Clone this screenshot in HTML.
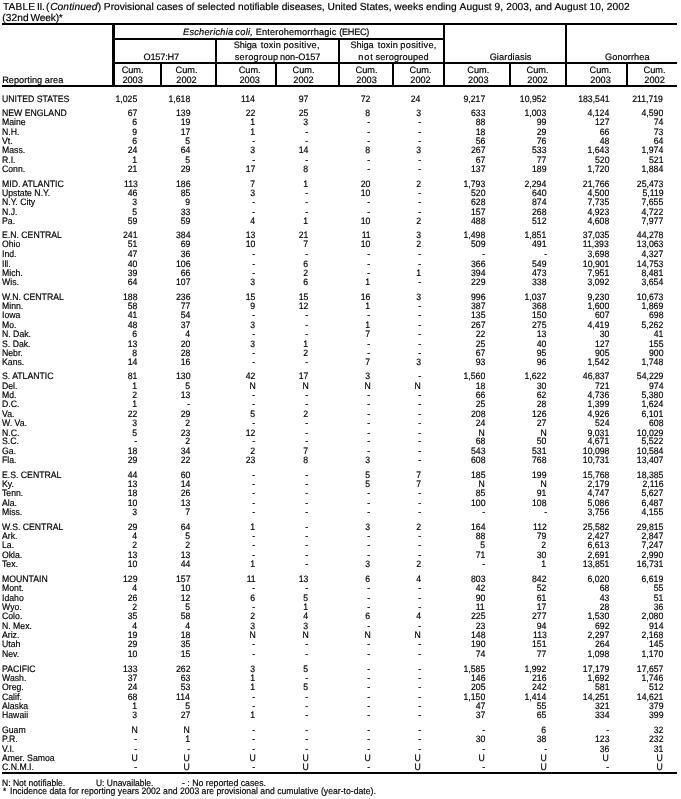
<!DOCTYPE html>
<html><head><meta charset="utf-8"><title>TABLE II</title>
<style>
html,body{margin:0;padding:0;background:#fff;}
body{width:681px;height:799px;position:relative;overflow:hidden;will-change:transform;text-rendering:geometricPrecision;font-family:"Liberation Sans",sans-serif;color:#000;}
.t{position:absolute;white-space:pre;line-height:10px;-webkit-text-stroke:0.18px #000;}
.r{position:absolute;background:#000;}
i{font-style:italic;}
</style></head><body>
<span class="t" style="top:3px;left:3.00px;font-size:10.2px;letter-spacing:0.149px;">TABLE</span>
<span class="t" style="top:3px;left:37.08px;font-size:10.2px;letter-spacing:-0.391px;">II.</span>
<span class="t" style="top:3px;font-size:10.2px;left:46.09px;">(</span>
<span class="t" style="top:3px;left:50.14px;font-size:10.2px;letter-spacing:0.105px;font-style:italic;">Continued</span>
<span class="t" style="top:3px;font-size:10.2px;left:97.63px;">) Provisional cases of selected notifiable diseases, United States, weeks ending</span>
<span class="t" style="top:3px;left:459.60px;font-size:10.2px;letter-spacing:0.068px;">August 9, 2003, and August 10, 2002</span>
<span class="t" style="top:14px;left:2.29px;font-size:10.2px;letter-spacing:0.066px;">(32nd</span>
<span class="t" style="top:14px;left:30.60px;font-size:10.2px;letter-spacing:-0.200px;">Week)*</span>
<div class="r" style="left:2px;top:23px;width:674.5px;height:2px"></div>
<div class="r" style="left:113px;top:38.2px;width:331px;height:1.8px"></div>
<div class="r" style="left:113px;top:62px;width:563.5px;height:2px"></div>
<div class="r" style="left:2px;top:85px;width:674.5px;height:2px"></div>
<div class="r" style="left:2px;top:772.4px;width:674.5px;height:1.5px"></div>
<div class="r" style="left:112px;top:23px;width:2.7px;height:64px"></div>
<div class="r" style="left:160px;top:63px;width:1.5px;height:23px"></div>
<div class="r" style="left:215px;top:39px;width:2.2px;height:47px"></div>
<div class="r" style="left:275.3px;top:63px;width:1.5px;height:23px"></div>
<div class="r" style="left:338px;top:39px;width:2px;height:47px"></div>
<div class="r" style="left:392px;top:63px;width:1.5px;height:23px"></div>
<div class="r" style="left:443.3px;top:23px;width:2px;height:64px"></div>
<div class="r" style="left:509px;top:63px;width:2px;height:23px"></div>
<div class="r" style="left:565px;top:23px;width:2px;height:64px"></div>
<div class="r" style="left:626px;top:63px;width:1.5px;height:23px"></div>
<span class="t" style="top:27px;left:183.02px;font-size:9.2px;letter-spacing:0.259px;font-style:italic;">Escherichia</span>
<span class="t" style="top:27px;left:235.32px;font-size:9.2px;letter-spacing:0.315px;font-style:italic;">coli,</span>
<span class="t" style="top:27px;left:255.76px;font-size:9.2px;letter-spacing:0.151px;">Enterohemorrhagic</span>
<span class="t" style="top:27px;left:339.15px;font-size:9.2px;letter-spacing:-0.278px;">(EHEC)</span>
<span class="t" style="top:52px;left:143.49px;font-size:9.2px;letter-spacing:-0.195px;">O157:H7</span>
<span class="t" style="top:40px;left:233.69px;font-size:9.2px;letter-spacing:-0.109px;">Shiga</span>
<span class="t" style="top:40px;left:260.76px;font-size:9.2px;letter-spacing:0.195px;">toxin</span>
<span class="t" style="top:40px;left:283.45px;font-size:9.2px;letter-spacing:0.302px;">positive,</span>
<span class="t" style="top:52px;left:234.67px;font-size:9.2px;letter-spacing:0.262px;">serogroup</span>
<span class="t" style="top:52px;left:280.00px;font-size:9.2px;letter-spacing:-0.055px;">non-O157</span>
<span class="t" style="top:40px;left:350.39px;font-size:9.2px;letter-spacing:-0.084px;">Shiga</span>
<span class="t" style="top:40px;left:377.66px;font-size:9.2px;letter-spacing:0.219px;">toxin</span>
<span class="t" style="top:40px;left:400.35px;font-size:9.2px;letter-spacing:0.290px;">positive,</span>
<span class="t" style="top:52px;left:358.20px;font-size:9.2px;letter-spacing:0.878px;">not</span>
<span class="t" style="top:52px;left:375.57px;font-size:9.2px;letter-spacing:0.152px;">serogrouped</span>
<span class="t" style="top:52px;left:489.64px;font-size:9.2px;letter-spacing:0.099px;">Giardiasis</span>
<span class="t" style="top:52px;left:605.04px;font-size:9.2px;letter-spacing:0.080px;">Gonorrhea</span>
<span class="t" style="top:75px;left:2.16px;font-size:9.2px;letter-spacing:0.026px;">Reporting area</span>
<span class="t" style="top:65px;font-size:9.2px;left:-17.40px;width:300px;text-align:center;">Cum.</span>
<span class="t" style="top:75px;font-size:9.2px;left:-17.40px;width:300px;text-align:center;">2003</span>
<span class="t" style="top:65px;font-size:9.2px;left:36.50px;width:300px;text-align:center;">Cum.</span>
<span class="t" style="top:75px;font-size:9.2px;left:36.50px;width:300px;text-align:center;">2002</span>
<span class="t" style="top:65px;font-size:9.2px;left:99.70px;width:300px;text-align:center;">Cum.</span>
<span class="t" style="top:75px;font-size:9.2px;left:99.70px;width:300px;text-align:center;">2003</span>
<span class="t" style="top:65px;font-size:9.2px;left:153.50px;width:300px;text-align:center;">Cum.</span>
<span class="t" style="top:75px;font-size:9.2px;left:153.50px;width:300px;text-align:center;">2002</span>
<span class="t" style="top:65px;font-size:9.2px;left:216.60px;width:300px;text-align:center;">Cum.</span>
<span class="t" style="top:75px;font-size:9.2px;left:216.60px;width:300px;text-align:center;">2003</span>
<span class="t" style="top:65px;font-size:9.2px;left:270.50px;width:300px;text-align:center;">Cum.</span>
<span class="t" style="top:75px;font-size:9.2px;left:270.50px;width:300px;text-align:center;">2002</span>
<span class="t" style="top:65px;font-size:9.2px;left:328.30px;width:300px;text-align:center;">Cum.</span>
<span class="t" style="top:75px;font-size:9.2px;left:328.30px;width:300px;text-align:center;">2003</span>
<span class="t" style="top:65px;font-size:9.2px;left:387.50px;width:300px;text-align:center;">Cum.</span>
<span class="t" style="top:75px;font-size:9.2px;left:387.50px;width:300px;text-align:center;">2002</span>
<span class="t" style="top:65px;font-size:9.2px;left:450.60px;width:300px;text-align:center;">Cum.</span>
<span class="t" style="top:75px;font-size:9.2px;left:450.60px;width:300px;text-align:center;">2003</span>
<span class="t" style="top:65px;font-size:9.2px;left:504.60px;width:300px;text-align:center;">Cum.</span>
<span class="t" style="top:75px;font-size:9.2px;left:504.60px;width:300px;text-align:center;">2002</span>
<span class="t" style="top:94px;font-size:9.3px;left:2.00px;transform:scaleX(0.9350);transform-origin:left center;">UNITED STATES</span>
<span class="t" style="top:94px;font-size:9.3px;right:543.50px;transform:scaleX(0.9350);transform-origin:right center;">1,025</span>
<span class="t" style="top:94px;font-size:9.3px;right:490.80px;transform:scaleX(0.9350);transform-origin:right center;">1,618</span>
<span class="t" style="top:94px;font-size:9.3px;right:425.70px;transform:scaleX(0.9350);transform-origin:right center;">114</span>
<span class="t" style="top:94px;font-size:9.3px;right:372.70px;transform:scaleX(0.9350);transform-origin:right center;">97</span>
<span class="t" style="top:94px;font-size:9.3px;right:310.50px;transform:scaleX(0.9350);transform-origin:right center;">72</span>
<span class="t" style="top:94px;font-size:9.3px;right:260.30px;transform:scaleX(0.9350);transform-origin:right center;">24</span>
<span class="t" style="top:94px;font-size:9.3px;right:195.90px;transform:scaleX(0.9350);transform-origin:right center;">9,217</span>
<span class="t" style="top:94px;font-size:9.3px;right:134.40px;transform:scaleX(0.9350);transform-origin:right center;">10,952</span>
<span class="t" style="top:94px;font-size:9.3px;right:71.90px;transform:scaleX(0.9350);transform-origin:right center;">183,541</span>
<span class="t" style="top:94px;font-size:9.3px;right:17.80px;transform:scaleX(0.9350);transform-origin:right center;">211,719</span>
<span class="t" style="top:108px;font-size:9.3px;left:2.00px;transform:scaleX(0.9350);transform-origin:left center;">NEW ENGLAND</span>
<span class="t" style="top:108px;font-size:9.3px;right:543.50px;transform:scaleX(0.9350);transform-origin:right center;">67</span>
<span class="t" style="top:108px;font-size:9.3px;right:490.80px;transform:scaleX(0.9350);transform-origin:right center;">139</span>
<span class="t" style="top:108px;font-size:9.3px;right:425.70px;transform:scaleX(0.9350);transform-origin:right center;">22</span>
<span class="t" style="top:108px;font-size:9.3px;right:372.70px;transform:scaleX(0.9350);transform-origin:right center;">25</span>
<span class="t" style="top:108px;font-size:9.3px;right:310.50px;transform:scaleX(0.9350);transform-origin:right center;">8</span>
<span class="t" style="top:108px;font-size:9.3px;right:260.30px;transform:scaleX(0.9350);transform-origin:right center;">3</span>
<span class="t" style="top:108px;font-size:9.3px;right:195.90px;transform:scaleX(0.9350);transform-origin:right center;">633</span>
<span class="t" style="top:108px;font-size:9.3px;right:134.40px;transform:scaleX(0.9350);transform-origin:right center;">1,003</span>
<span class="t" style="top:108px;font-size:9.3px;right:71.90px;transform:scaleX(0.9350);transform-origin:right center;">4,124</span>
<span class="t" style="top:108px;font-size:9.3px;right:17.80px;transform:scaleX(0.9350);transform-origin:right center;">4,590</span>
<span class="t" style="top:117px;font-size:9.3px;left:2.00px;transform:scaleX(0.9350);transform-origin:left center;">Maine</span>
<span class="t" style="top:117px;font-size:9.3px;right:543.50px;transform:scaleX(0.9350);transform-origin:right center;">6</span>
<span class="t" style="top:117px;font-size:9.3px;right:490.80px;transform:scaleX(0.9350);transform-origin:right center;">19</span>
<span class="t" style="top:117px;font-size:9.3px;right:425.70px;transform:scaleX(0.9350);transform-origin:right center;">1</span>
<span class="t" style="top:117px;font-size:9.3px;right:372.70px;transform:scaleX(0.9350);transform-origin:right center;">3</span>
<span class="t" style="top:117px;font-size:9.3px;right:310.50px;transform:scaleX(0.9350);transform-origin:right center;">-</span>
<span class="t" style="top:117px;font-size:9.3px;right:260.30px;transform:scaleX(0.9350);transform-origin:right center;">-</span>
<span class="t" style="top:117px;font-size:9.3px;right:195.90px;transform:scaleX(0.9350);transform-origin:right center;">88</span>
<span class="t" style="top:117px;font-size:9.3px;right:134.40px;transform:scaleX(0.9350);transform-origin:right center;">99</span>
<span class="t" style="top:117px;font-size:9.3px;right:71.90px;transform:scaleX(0.9350);transform-origin:right center;">127</span>
<span class="t" style="top:117px;font-size:9.3px;right:17.80px;transform:scaleX(0.9350);transform-origin:right center;">74</span>
<span class="t" style="top:127px;font-size:9.3px;left:2.00px;transform:scaleX(0.9350);transform-origin:left center;">N.H.</span>
<span class="t" style="top:127px;font-size:9.3px;right:543.50px;transform:scaleX(0.9350);transform-origin:right center;">9</span>
<span class="t" style="top:127px;font-size:9.3px;right:490.80px;transform:scaleX(0.9350);transform-origin:right center;">17</span>
<span class="t" style="top:127px;font-size:9.3px;right:425.70px;transform:scaleX(0.9350);transform-origin:right center;">1</span>
<span class="t" style="top:127px;font-size:9.3px;right:372.70px;transform:scaleX(0.9350);transform-origin:right center;">-</span>
<span class="t" style="top:127px;font-size:9.3px;right:310.50px;transform:scaleX(0.9350);transform-origin:right center;">-</span>
<span class="t" style="top:127px;font-size:9.3px;right:260.30px;transform:scaleX(0.9350);transform-origin:right center;">-</span>
<span class="t" style="top:127px;font-size:9.3px;right:195.90px;transform:scaleX(0.9350);transform-origin:right center;">18</span>
<span class="t" style="top:127px;font-size:9.3px;right:134.40px;transform:scaleX(0.9350);transform-origin:right center;">29</span>
<span class="t" style="top:127px;font-size:9.3px;right:71.90px;transform:scaleX(0.9350);transform-origin:right center;">66</span>
<span class="t" style="top:127px;font-size:9.3px;right:17.80px;transform:scaleX(0.9350);transform-origin:right center;">73</span>
<span class="t" style="top:136px;font-size:9.3px;left:2.00px;transform:scaleX(0.9350);transform-origin:left center;">Vt.</span>
<span class="t" style="top:136px;font-size:9.3px;right:543.50px;transform:scaleX(0.9350);transform-origin:right center;">6</span>
<span class="t" style="top:136px;font-size:9.3px;right:490.80px;transform:scaleX(0.9350);transform-origin:right center;">5</span>
<span class="t" style="top:136px;font-size:9.3px;right:425.70px;transform:scaleX(0.9350);transform-origin:right center;">-</span>
<span class="t" style="top:136px;font-size:9.3px;right:372.70px;transform:scaleX(0.9350);transform-origin:right center;">-</span>
<span class="t" style="top:136px;font-size:9.3px;right:310.50px;transform:scaleX(0.9350);transform-origin:right center;">-</span>
<span class="t" style="top:136px;font-size:9.3px;right:260.30px;transform:scaleX(0.9350);transform-origin:right center;">-</span>
<span class="t" style="top:136px;font-size:9.3px;right:195.90px;transform:scaleX(0.9350);transform-origin:right center;">56</span>
<span class="t" style="top:136px;font-size:9.3px;right:134.40px;transform:scaleX(0.9350);transform-origin:right center;">76</span>
<span class="t" style="top:136px;font-size:9.3px;right:71.90px;transform:scaleX(0.9350);transform-origin:right center;">48</span>
<span class="t" style="top:136px;font-size:9.3px;right:17.80px;transform:scaleX(0.9350);transform-origin:right center;">64</span>
<span class="t" style="top:145px;font-size:9.3px;left:2.00px;transform:scaleX(0.9350);transform-origin:left center;">Mass.</span>
<span class="t" style="top:145px;font-size:9.3px;right:543.50px;transform:scaleX(0.9350);transform-origin:right center;">24</span>
<span class="t" style="top:145px;font-size:9.3px;right:490.80px;transform:scaleX(0.9350);transform-origin:right center;">64</span>
<span class="t" style="top:145px;font-size:9.3px;right:425.70px;transform:scaleX(0.9350);transform-origin:right center;">3</span>
<span class="t" style="top:145px;font-size:9.3px;right:372.70px;transform:scaleX(0.9350);transform-origin:right center;">14</span>
<span class="t" style="top:145px;font-size:9.3px;right:310.50px;transform:scaleX(0.9350);transform-origin:right center;">8</span>
<span class="t" style="top:145px;font-size:9.3px;right:260.30px;transform:scaleX(0.9350);transform-origin:right center;">3</span>
<span class="t" style="top:145px;font-size:9.3px;right:195.90px;transform:scaleX(0.9350);transform-origin:right center;">267</span>
<span class="t" style="top:145px;font-size:9.3px;right:134.40px;transform:scaleX(0.9350);transform-origin:right center;">533</span>
<span class="t" style="top:145px;font-size:9.3px;right:71.90px;transform:scaleX(0.9350);transform-origin:right center;">1,643</span>
<span class="t" style="top:145px;font-size:9.3px;right:17.80px;transform:scaleX(0.9350);transform-origin:right center;">1,974</span>
<span class="t" style="top:155px;font-size:9.3px;left:2.00px;transform:scaleX(0.9350);transform-origin:left center;">R.I.</span>
<span class="t" style="top:155px;font-size:9.3px;right:543.50px;transform:scaleX(0.9350);transform-origin:right center;">1</span>
<span class="t" style="top:155px;font-size:9.3px;right:490.80px;transform:scaleX(0.9350);transform-origin:right center;">5</span>
<span class="t" style="top:155px;font-size:9.3px;right:425.70px;transform:scaleX(0.9350);transform-origin:right center;">-</span>
<span class="t" style="top:155px;font-size:9.3px;right:372.70px;transform:scaleX(0.9350);transform-origin:right center;">-</span>
<span class="t" style="top:155px;font-size:9.3px;right:310.50px;transform:scaleX(0.9350);transform-origin:right center;">-</span>
<span class="t" style="top:155px;font-size:9.3px;right:260.30px;transform:scaleX(0.9350);transform-origin:right center;">-</span>
<span class="t" style="top:155px;font-size:9.3px;right:195.90px;transform:scaleX(0.9350);transform-origin:right center;">67</span>
<span class="t" style="top:155px;font-size:9.3px;right:134.40px;transform:scaleX(0.9350);transform-origin:right center;">77</span>
<span class="t" style="top:155px;font-size:9.3px;right:71.90px;transform:scaleX(0.9350);transform-origin:right center;">520</span>
<span class="t" style="top:155px;font-size:9.3px;right:17.80px;transform:scaleX(0.9350);transform-origin:right center;">521</span>
<span class="t" style="top:164px;font-size:9.3px;left:2.00px;transform:scaleX(0.9350);transform-origin:left center;">Conn.</span>
<span class="t" style="top:164px;font-size:9.3px;right:543.50px;transform:scaleX(0.9350);transform-origin:right center;">21</span>
<span class="t" style="top:164px;font-size:9.3px;right:490.80px;transform:scaleX(0.9350);transform-origin:right center;">29</span>
<span class="t" style="top:164px;font-size:9.3px;right:425.70px;transform:scaleX(0.9350);transform-origin:right center;">17</span>
<span class="t" style="top:164px;font-size:9.3px;right:372.70px;transform:scaleX(0.9350);transform-origin:right center;">8</span>
<span class="t" style="top:164px;font-size:9.3px;right:310.50px;transform:scaleX(0.9350);transform-origin:right center;">-</span>
<span class="t" style="top:164px;font-size:9.3px;right:260.30px;transform:scaleX(0.9350);transform-origin:right center;">-</span>
<span class="t" style="top:164px;font-size:9.3px;right:195.90px;transform:scaleX(0.9350);transform-origin:right center;">137</span>
<span class="t" style="top:164px;font-size:9.3px;right:134.40px;transform:scaleX(0.9350);transform-origin:right center;">189</span>
<span class="t" style="top:164px;font-size:9.3px;right:71.90px;transform:scaleX(0.9350);transform-origin:right center;">1,720</span>
<span class="t" style="top:164px;font-size:9.3px;right:17.80px;transform:scaleX(0.9350);transform-origin:right center;">1,884</span>
<span class="t" style="top:179px;font-size:9.3px;left:2.00px;transform:scaleX(0.9350);transform-origin:left center;">MID. ATLANTIC</span>
<span class="t" style="top:179px;font-size:9.3px;right:543.50px;transform:scaleX(0.9350);transform-origin:right center;">113</span>
<span class="t" style="top:179px;font-size:9.3px;right:490.80px;transform:scaleX(0.9350);transform-origin:right center;">186</span>
<span class="t" style="top:179px;font-size:9.3px;right:425.70px;transform:scaleX(0.9350);transform-origin:right center;">7</span>
<span class="t" style="top:179px;font-size:9.3px;right:372.70px;transform:scaleX(0.9350);transform-origin:right center;">1</span>
<span class="t" style="top:179px;font-size:9.3px;right:310.50px;transform:scaleX(0.9350);transform-origin:right center;">20</span>
<span class="t" style="top:179px;font-size:9.3px;right:260.30px;transform:scaleX(0.9350);transform-origin:right center;">2</span>
<span class="t" style="top:179px;font-size:9.3px;right:195.90px;transform:scaleX(0.9350);transform-origin:right center;">1,793</span>
<span class="t" style="top:179px;font-size:9.3px;right:134.40px;transform:scaleX(0.9350);transform-origin:right center;">2,294</span>
<span class="t" style="top:179px;font-size:9.3px;right:71.90px;transform:scaleX(0.9350);transform-origin:right center;">21,766</span>
<span class="t" style="top:179px;font-size:9.3px;right:17.80px;transform:scaleX(0.9350);transform-origin:right center;">25,473</span>
<span class="t" style="top:188px;font-size:9.3px;left:2.00px;transform:scaleX(0.9350);transform-origin:left center;">Upstate N.Y.</span>
<span class="t" style="top:188px;font-size:9.3px;right:543.50px;transform:scaleX(0.9350);transform-origin:right center;">46</span>
<span class="t" style="top:188px;font-size:9.3px;right:490.80px;transform:scaleX(0.9350);transform-origin:right center;">85</span>
<span class="t" style="top:188px;font-size:9.3px;right:425.70px;transform:scaleX(0.9350);transform-origin:right center;">3</span>
<span class="t" style="top:188px;font-size:9.3px;right:372.70px;transform:scaleX(0.9350);transform-origin:right center;">-</span>
<span class="t" style="top:188px;font-size:9.3px;right:310.50px;transform:scaleX(0.9350);transform-origin:right center;">10</span>
<span class="t" style="top:188px;font-size:9.3px;right:260.30px;transform:scaleX(0.9350);transform-origin:right center;">-</span>
<span class="t" style="top:188px;font-size:9.3px;right:195.90px;transform:scaleX(0.9350);transform-origin:right center;">520</span>
<span class="t" style="top:188px;font-size:9.3px;right:134.40px;transform:scaleX(0.9350);transform-origin:right center;">640</span>
<span class="t" style="top:188px;font-size:9.3px;right:71.90px;transform:scaleX(0.9350);transform-origin:right center;">4,500</span>
<span class="t" style="top:188px;font-size:9.3px;right:17.80px;transform:scaleX(0.9350);transform-origin:right center;">5,119</span>
<span class="t" style="top:197px;font-size:9.3px;left:2.00px;transform:scaleX(0.9350);transform-origin:left center;">N.Y. City</span>
<span class="t" style="top:197px;font-size:9.3px;right:543.50px;transform:scaleX(0.9350);transform-origin:right center;">3</span>
<span class="t" style="top:197px;font-size:9.3px;right:490.80px;transform:scaleX(0.9350);transform-origin:right center;">9</span>
<span class="t" style="top:197px;font-size:9.3px;right:425.70px;transform:scaleX(0.9350);transform-origin:right center;">-</span>
<span class="t" style="top:197px;font-size:9.3px;right:372.70px;transform:scaleX(0.9350);transform-origin:right center;">-</span>
<span class="t" style="top:197px;font-size:9.3px;right:310.50px;transform:scaleX(0.9350);transform-origin:right center;">-</span>
<span class="t" style="top:197px;font-size:9.3px;right:260.30px;transform:scaleX(0.9350);transform-origin:right center;">-</span>
<span class="t" style="top:197px;font-size:9.3px;right:195.90px;transform:scaleX(0.9350);transform-origin:right center;">628</span>
<span class="t" style="top:197px;font-size:9.3px;right:134.40px;transform:scaleX(0.9350);transform-origin:right center;">874</span>
<span class="t" style="top:197px;font-size:9.3px;right:71.90px;transform:scaleX(0.9350);transform-origin:right center;">7,735</span>
<span class="t" style="top:197px;font-size:9.3px;right:17.80px;transform:scaleX(0.9350);transform-origin:right center;">7,655</span>
<span class="t" style="top:207px;font-size:9.3px;left:2.00px;transform:scaleX(0.9350);transform-origin:left center;">N.J.</span>
<span class="t" style="top:207px;font-size:9.3px;right:543.50px;transform:scaleX(0.9350);transform-origin:right center;">5</span>
<span class="t" style="top:207px;font-size:9.3px;right:490.80px;transform:scaleX(0.9350);transform-origin:right center;">33</span>
<span class="t" style="top:207px;font-size:9.3px;right:425.70px;transform:scaleX(0.9350);transform-origin:right center;">-</span>
<span class="t" style="top:207px;font-size:9.3px;right:372.70px;transform:scaleX(0.9350);transform-origin:right center;">-</span>
<span class="t" style="top:207px;font-size:9.3px;right:310.50px;transform:scaleX(0.9350);transform-origin:right center;">-</span>
<span class="t" style="top:207px;font-size:9.3px;right:260.30px;transform:scaleX(0.9350);transform-origin:right center;">-</span>
<span class="t" style="top:207px;font-size:9.3px;right:195.90px;transform:scaleX(0.9350);transform-origin:right center;">157</span>
<span class="t" style="top:207px;font-size:9.3px;right:134.40px;transform:scaleX(0.9350);transform-origin:right center;">268</span>
<span class="t" style="top:207px;font-size:9.3px;right:71.90px;transform:scaleX(0.9350);transform-origin:right center;">4,923</span>
<span class="t" style="top:207px;font-size:9.3px;right:17.80px;transform:scaleX(0.9350);transform-origin:right center;">4,722</span>
<span class="t" style="top:216px;font-size:9.3px;left:2.00px;transform:scaleX(0.9350);transform-origin:left center;">Pa.</span>
<span class="t" style="top:216px;font-size:9.3px;right:543.50px;transform:scaleX(0.9350);transform-origin:right center;">59</span>
<span class="t" style="top:216px;font-size:9.3px;right:490.80px;transform:scaleX(0.9350);transform-origin:right center;">59</span>
<span class="t" style="top:216px;font-size:9.3px;right:425.70px;transform:scaleX(0.9350);transform-origin:right center;">4</span>
<span class="t" style="top:216px;font-size:9.3px;right:372.70px;transform:scaleX(0.9350);transform-origin:right center;">1</span>
<span class="t" style="top:216px;font-size:9.3px;right:310.50px;transform:scaleX(0.9350);transform-origin:right center;">10</span>
<span class="t" style="top:216px;font-size:9.3px;right:260.30px;transform:scaleX(0.9350);transform-origin:right center;">2</span>
<span class="t" style="top:216px;font-size:9.3px;right:195.90px;transform:scaleX(0.9350);transform-origin:right center;">488</span>
<span class="t" style="top:216px;font-size:9.3px;right:134.40px;transform:scaleX(0.9350);transform-origin:right center;">512</span>
<span class="t" style="top:216px;font-size:9.3px;right:71.90px;transform:scaleX(0.9350);transform-origin:right center;">4,608</span>
<span class="t" style="top:216px;font-size:9.3px;right:17.80px;transform:scaleX(0.9350);transform-origin:right center;">7,977</span>
<span class="t" style="top:230px;font-size:9.3px;left:2.00px;transform:scaleX(0.9350);transform-origin:left center;">E.N. CENTRAL</span>
<span class="t" style="top:230px;font-size:9.3px;right:543.50px;transform:scaleX(0.9350);transform-origin:right center;">241</span>
<span class="t" style="top:230px;font-size:9.3px;right:490.80px;transform:scaleX(0.9350);transform-origin:right center;">384</span>
<span class="t" style="top:230px;font-size:9.3px;right:425.70px;transform:scaleX(0.9350);transform-origin:right center;">13</span>
<span class="t" style="top:230px;font-size:9.3px;right:372.70px;transform:scaleX(0.9350);transform-origin:right center;">21</span>
<span class="t" style="top:230px;font-size:9.3px;right:310.50px;transform:scaleX(0.9350);transform-origin:right center;">11</span>
<span class="t" style="top:230px;font-size:9.3px;right:260.30px;transform:scaleX(0.9350);transform-origin:right center;">3</span>
<span class="t" style="top:230px;font-size:9.3px;right:195.90px;transform:scaleX(0.9350);transform-origin:right center;">1,498</span>
<span class="t" style="top:230px;font-size:9.3px;right:134.40px;transform:scaleX(0.9350);transform-origin:right center;">1,851</span>
<span class="t" style="top:230px;font-size:9.3px;right:71.90px;transform:scaleX(0.9350);transform-origin:right center;">37,035</span>
<span class="t" style="top:230px;font-size:9.3px;right:17.80px;transform:scaleX(0.9350);transform-origin:right center;">44,278</span>
<span class="t" style="top:239px;font-size:9.3px;left:2.00px;transform:scaleX(0.9350);transform-origin:left center;">Ohio</span>
<span class="t" style="top:239px;font-size:9.3px;right:543.50px;transform:scaleX(0.9350);transform-origin:right center;">51</span>
<span class="t" style="top:239px;font-size:9.3px;right:490.80px;transform:scaleX(0.9350);transform-origin:right center;">69</span>
<span class="t" style="top:239px;font-size:9.3px;right:425.70px;transform:scaleX(0.9350);transform-origin:right center;">10</span>
<span class="t" style="top:239px;font-size:9.3px;right:372.70px;transform:scaleX(0.9350);transform-origin:right center;">7</span>
<span class="t" style="top:239px;font-size:9.3px;right:310.50px;transform:scaleX(0.9350);transform-origin:right center;">10</span>
<span class="t" style="top:239px;font-size:9.3px;right:260.30px;transform:scaleX(0.9350);transform-origin:right center;">2</span>
<span class="t" style="top:239px;font-size:9.3px;right:195.90px;transform:scaleX(0.9350);transform-origin:right center;">509</span>
<span class="t" style="top:239px;font-size:9.3px;right:134.40px;transform:scaleX(0.9350);transform-origin:right center;">491</span>
<span class="t" style="top:239px;font-size:9.3px;right:71.90px;transform:scaleX(0.9350);transform-origin:right center;">11,393</span>
<span class="t" style="top:239px;font-size:9.3px;right:17.80px;transform:scaleX(0.9350);transform-origin:right center;">13,063</span>
<span class="t" style="top:249px;font-size:9.3px;left:2.00px;transform:scaleX(0.9350);transform-origin:left center;">Ind.</span>
<span class="t" style="top:249px;font-size:9.3px;right:543.50px;transform:scaleX(0.9350);transform-origin:right center;">47</span>
<span class="t" style="top:249px;font-size:9.3px;right:490.80px;transform:scaleX(0.9350);transform-origin:right center;">36</span>
<span class="t" style="top:249px;font-size:9.3px;right:425.70px;transform:scaleX(0.9350);transform-origin:right center;">-</span>
<span class="t" style="top:249px;font-size:9.3px;right:372.70px;transform:scaleX(0.9350);transform-origin:right center;">-</span>
<span class="t" style="top:249px;font-size:9.3px;right:310.50px;transform:scaleX(0.9350);transform-origin:right center;">-</span>
<span class="t" style="top:249px;font-size:9.3px;right:260.30px;transform:scaleX(0.9350);transform-origin:right center;">-</span>
<span class="t" style="top:249px;font-size:9.3px;right:195.90px;transform:scaleX(0.9350);transform-origin:right center;">-</span>
<span class="t" style="top:249px;font-size:9.3px;right:134.40px;transform:scaleX(0.9350);transform-origin:right center;">-</span>
<span class="t" style="top:249px;font-size:9.3px;right:71.90px;transform:scaleX(0.9350);transform-origin:right center;">3,698</span>
<span class="t" style="top:249px;font-size:9.3px;right:17.80px;transform:scaleX(0.9350);transform-origin:right center;">4,327</span>
<span class="t" style="top:259px;font-size:9.3px;left:2.00px;transform:scaleX(0.9350);transform-origin:left center;">Ill.</span>
<span class="t" style="top:259px;font-size:9.3px;right:543.50px;transform:scaleX(0.9350);transform-origin:right center;">40</span>
<span class="t" style="top:259px;font-size:9.3px;right:490.80px;transform:scaleX(0.9350);transform-origin:right center;">106</span>
<span class="t" style="top:259px;font-size:9.3px;right:425.70px;transform:scaleX(0.9350);transform-origin:right center;">-</span>
<span class="t" style="top:259px;font-size:9.3px;right:372.70px;transform:scaleX(0.9350);transform-origin:right center;">6</span>
<span class="t" style="top:259px;font-size:9.3px;right:310.50px;transform:scaleX(0.9350);transform-origin:right center;">-</span>
<span class="t" style="top:259px;font-size:9.3px;right:260.30px;transform:scaleX(0.9350);transform-origin:right center;">-</span>
<span class="t" style="top:259px;font-size:9.3px;right:195.90px;transform:scaleX(0.9350);transform-origin:right center;">366</span>
<span class="t" style="top:259px;font-size:9.3px;right:134.40px;transform:scaleX(0.9350);transform-origin:right center;">549</span>
<span class="t" style="top:259px;font-size:9.3px;right:71.90px;transform:scaleX(0.9350);transform-origin:right center;">10,901</span>
<span class="t" style="top:259px;font-size:9.3px;right:17.80px;transform:scaleX(0.9350);transform-origin:right center;">14,753</span>
<span class="t" style="top:268px;font-size:9.3px;left:2.00px;transform:scaleX(0.9350);transform-origin:left center;">Mich.</span>
<span class="t" style="top:268px;font-size:9.3px;right:543.50px;transform:scaleX(0.9350);transform-origin:right center;">39</span>
<span class="t" style="top:268px;font-size:9.3px;right:490.80px;transform:scaleX(0.9350);transform-origin:right center;">66</span>
<span class="t" style="top:268px;font-size:9.3px;right:425.70px;transform:scaleX(0.9350);transform-origin:right center;">-</span>
<span class="t" style="top:268px;font-size:9.3px;right:372.70px;transform:scaleX(0.9350);transform-origin:right center;">2</span>
<span class="t" style="top:268px;font-size:9.3px;right:310.50px;transform:scaleX(0.9350);transform-origin:right center;">-</span>
<span class="t" style="top:268px;font-size:9.3px;right:260.30px;transform:scaleX(0.9350);transform-origin:right center;">1</span>
<span class="t" style="top:268px;font-size:9.3px;right:195.90px;transform:scaleX(0.9350);transform-origin:right center;">394</span>
<span class="t" style="top:268px;font-size:9.3px;right:134.40px;transform:scaleX(0.9350);transform-origin:right center;">473</span>
<span class="t" style="top:268px;font-size:9.3px;right:71.90px;transform:scaleX(0.9350);transform-origin:right center;">7,951</span>
<span class="t" style="top:268px;font-size:9.3px;right:17.80px;transform:scaleX(0.9350);transform-origin:right center;">8,481</span>
<span class="t" style="top:277px;font-size:9.3px;left:2.00px;transform:scaleX(0.9350);transform-origin:left center;">Wis.</span>
<span class="t" style="top:277px;font-size:9.3px;right:543.50px;transform:scaleX(0.9350);transform-origin:right center;">64</span>
<span class="t" style="top:277px;font-size:9.3px;right:490.80px;transform:scaleX(0.9350);transform-origin:right center;">107</span>
<span class="t" style="top:277px;font-size:9.3px;right:425.70px;transform:scaleX(0.9350);transform-origin:right center;">3</span>
<span class="t" style="top:277px;font-size:9.3px;right:372.70px;transform:scaleX(0.9350);transform-origin:right center;">6</span>
<span class="t" style="top:277px;font-size:9.3px;right:310.50px;transform:scaleX(0.9350);transform-origin:right center;">1</span>
<span class="t" style="top:277px;font-size:9.3px;right:260.30px;transform:scaleX(0.9350);transform-origin:right center;">-</span>
<span class="t" style="top:277px;font-size:9.3px;right:195.90px;transform:scaleX(0.9350);transform-origin:right center;">229</span>
<span class="t" style="top:277px;font-size:9.3px;right:134.40px;transform:scaleX(0.9350);transform-origin:right center;">338</span>
<span class="t" style="top:277px;font-size:9.3px;right:71.90px;transform:scaleX(0.9350);transform-origin:right center;">3,092</span>
<span class="t" style="top:277px;font-size:9.3px;right:17.80px;transform:scaleX(0.9350);transform-origin:right center;">3,654</span>
<span class="t" style="top:292px;font-size:9.3px;left:2.00px;transform:scaleX(0.9350);transform-origin:left center;">W.N. CENTRAL</span>
<span class="t" style="top:292px;font-size:9.3px;right:543.50px;transform:scaleX(0.9350);transform-origin:right center;">188</span>
<span class="t" style="top:292px;font-size:9.3px;right:490.80px;transform:scaleX(0.9350);transform-origin:right center;">236</span>
<span class="t" style="top:292px;font-size:9.3px;right:425.70px;transform:scaleX(0.9350);transform-origin:right center;">15</span>
<span class="t" style="top:292px;font-size:9.3px;right:372.70px;transform:scaleX(0.9350);transform-origin:right center;">15</span>
<span class="t" style="top:292px;font-size:9.3px;right:310.50px;transform:scaleX(0.9350);transform-origin:right center;">16</span>
<span class="t" style="top:292px;font-size:9.3px;right:260.30px;transform:scaleX(0.9350);transform-origin:right center;">3</span>
<span class="t" style="top:292px;font-size:9.3px;right:195.90px;transform:scaleX(0.9350);transform-origin:right center;">996</span>
<span class="t" style="top:292px;font-size:9.3px;right:134.40px;transform:scaleX(0.9350);transform-origin:right center;">1,037</span>
<span class="t" style="top:292px;font-size:9.3px;right:71.90px;transform:scaleX(0.9350);transform-origin:right center;">9,230</span>
<span class="t" style="top:292px;font-size:9.3px;right:17.80px;transform:scaleX(0.9350);transform-origin:right center;">10,673</span>
<span class="t" style="top:301px;font-size:9.3px;left:2.00px;transform:scaleX(0.9350);transform-origin:left center;">Minn.</span>
<span class="t" style="top:301px;font-size:9.3px;right:543.50px;transform:scaleX(0.9350);transform-origin:right center;">58</span>
<span class="t" style="top:301px;font-size:9.3px;right:490.80px;transform:scaleX(0.9350);transform-origin:right center;">77</span>
<span class="t" style="top:301px;font-size:9.3px;right:425.70px;transform:scaleX(0.9350);transform-origin:right center;">9</span>
<span class="t" style="top:301px;font-size:9.3px;right:372.70px;transform:scaleX(0.9350);transform-origin:right center;">12</span>
<span class="t" style="top:301px;font-size:9.3px;right:310.50px;transform:scaleX(0.9350);transform-origin:right center;">1</span>
<span class="t" style="top:301px;font-size:9.3px;right:260.30px;transform:scaleX(0.9350);transform-origin:right center;">-</span>
<span class="t" style="top:301px;font-size:9.3px;right:195.90px;transform:scaleX(0.9350);transform-origin:right center;">387</span>
<span class="t" style="top:301px;font-size:9.3px;right:134.40px;transform:scaleX(0.9350);transform-origin:right center;">368</span>
<span class="t" style="top:301px;font-size:9.3px;right:71.90px;transform:scaleX(0.9350);transform-origin:right center;">1,600</span>
<span class="t" style="top:301px;font-size:9.3px;right:17.80px;transform:scaleX(0.9350);transform-origin:right center;">1,869</span>
<span class="t" style="top:310px;font-size:9.3px;left:2.00px;transform:scaleX(0.9350);transform-origin:left center;">Iowa</span>
<span class="t" style="top:310px;font-size:9.3px;right:543.50px;transform:scaleX(0.9350);transform-origin:right center;">41</span>
<span class="t" style="top:310px;font-size:9.3px;right:490.80px;transform:scaleX(0.9350);transform-origin:right center;">54</span>
<span class="t" style="top:310px;font-size:9.3px;right:425.70px;transform:scaleX(0.9350);transform-origin:right center;">-</span>
<span class="t" style="top:310px;font-size:9.3px;right:372.70px;transform:scaleX(0.9350);transform-origin:right center;">-</span>
<span class="t" style="top:310px;font-size:9.3px;right:310.50px;transform:scaleX(0.9350);transform-origin:right center;">-</span>
<span class="t" style="top:310px;font-size:9.3px;right:260.30px;transform:scaleX(0.9350);transform-origin:right center;">-</span>
<span class="t" style="top:310px;font-size:9.3px;right:195.90px;transform:scaleX(0.9350);transform-origin:right center;">135</span>
<span class="t" style="top:310px;font-size:9.3px;right:134.40px;transform:scaleX(0.9350);transform-origin:right center;">150</span>
<span class="t" style="top:310px;font-size:9.3px;right:71.90px;transform:scaleX(0.9350);transform-origin:right center;">607</span>
<span class="t" style="top:310px;font-size:9.3px;right:17.80px;transform:scaleX(0.9350);transform-origin:right center;">698</span>
<span class="t" style="top:320px;font-size:9.3px;left:2.00px;transform:scaleX(0.9350);transform-origin:left center;">Mo.</span>
<span class="t" style="top:320px;font-size:9.3px;right:543.50px;transform:scaleX(0.9350);transform-origin:right center;">48</span>
<span class="t" style="top:320px;font-size:9.3px;right:490.80px;transform:scaleX(0.9350);transform-origin:right center;">37</span>
<span class="t" style="top:320px;font-size:9.3px;right:425.70px;transform:scaleX(0.9350);transform-origin:right center;">3</span>
<span class="t" style="top:320px;font-size:9.3px;right:372.70px;transform:scaleX(0.9350);transform-origin:right center;">-</span>
<span class="t" style="top:320px;font-size:9.3px;right:310.50px;transform:scaleX(0.9350);transform-origin:right center;">1</span>
<span class="t" style="top:320px;font-size:9.3px;right:260.30px;transform:scaleX(0.9350);transform-origin:right center;">-</span>
<span class="t" style="top:320px;font-size:9.3px;right:195.90px;transform:scaleX(0.9350);transform-origin:right center;">267</span>
<span class="t" style="top:320px;font-size:9.3px;right:134.40px;transform:scaleX(0.9350);transform-origin:right center;">275</span>
<span class="t" style="top:320px;font-size:9.3px;right:71.90px;transform:scaleX(0.9350);transform-origin:right center;">4,419</span>
<span class="t" style="top:320px;font-size:9.3px;right:17.80px;transform:scaleX(0.9350);transform-origin:right center;">5,262</span>
<span class="t" style="top:329px;font-size:9.3px;left:2.00px;transform:scaleX(0.9350);transform-origin:left center;">N. Dak.</span>
<span class="t" style="top:329px;font-size:9.3px;right:543.50px;transform:scaleX(0.9350);transform-origin:right center;">6</span>
<span class="t" style="top:329px;font-size:9.3px;right:490.80px;transform:scaleX(0.9350);transform-origin:right center;">4</span>
<span class="t" style="top:329px;font-size:9.3px;right:425.70px;transform:scaleX(0.9350);transform-origin:right center;">-</span>
<span class="t" style="top:329px;font-size:9.3px;right:372.70px;transform:scaleX(0.9350);transform-origin:right center;">-</span>
<span class="t" style="top:329px;font-size:9.3px;right:310.50px;transform:scaleX(0.9350);transform-origin:right center;">7</span>
<span class="t" style="top:329px;font-size:9.3px;right:260.30px;transform:scaleX(0.9350);transform-origin:right center;">-</span>
<span class="t" style="top:329px;font-size:9.3px;right:195.90px;transform:scaleX(0.9350);transform-origin:right center;">22</span>
<span class="t" style="top:329px;font-size:9.3px;right:134.40px;transform:scaleX(0.9350);transform-origin:right center;">13</span>
<span class="t" style="top:329px;font-size:9.3px;right:71.90px;transform:scaleX(0.9350);transform-origin:right center;">30</span>
<span class="t" style="top:329px;font-size:9.3px;right:17.80px;transform:scaleX(0.9350);transform-origin:right center;">41</span>
<span class="t" style="top:339px;font-size:9.3px;left:2.00px;transform:scaleX(0.9350);transform-origin:left center;">S. Dak.</span>
<span class="t" style="top:339px;font-size:9.3px;right:543.50px;transform:scaleX(0.9350);transform-origin:right center;">13</span>
<span class="t" style="top:339px;font-size:9.3px;right:490.80px;transform:scaleX(0.9350);transform-origin:right center;">20</span>
<span class="t" style="top:339px;font-size:9.3px;right:425.70px;transform:scaleX(0.9350);transform-origin:right center;">3</span>
<span class="t" style="top:339px;font-size:9.3px;right:372.70px;transform:scaleX(0.9350);transform-origin:right center;">1</span>
<span class="t" style="top:339px;font-size:9.3px;right:310.50px;transform:scaleX(0.9350);transform-origin:right center;">-</span>
<span class="t" style="top:339px;font-size:9.3px;right:260.30px;transform:scaleX(0.9350);transform-origin:right center;">-</span>
<span class="t" style="top:339px;font-size:9.3px;right:195.90px;transform:scaleX(0.9350);transform-origin:right center;">25</span>
<span class="t" style="top:339px;font-size:9.3px;right:134.40px;transform:scaleX(0.9350);transform-origin:right center;">40</span>
<span class="t" style="top:339px;font-size:9.3px;right:71.90px;transform:scaleX(0.9350);transform-origin:right center;">127</span>
<span class="t" style="top:339px;font-size:9.3px;right:17.80px;transform:scaleX(0.9350);transform-origin:right center;">155</span>
<span class="t" style="top:348px;font-size:9.3px;left:2.00px;transform:scaleX(0.9350);transform-origin:left center;">Nebr.</span>
<span class="t" style="top:348px;font-size:9.3px;right:543.50px;transform:scaleX(0.9350);transform-origin:right center;">8</span>
<span class="t" style="top:348px;font-size:9.3px;right:490.80px;transform:scaleX(0.9350);transform-origin:right center;">28</span>
<span class="t" style="top:348px;font-size:9.3px;right:425.70px;transform:scaleX(0.9350);transform-origin:right center;">-</span>
<span class="t" style="top:348px;font-size:9.3px;right:372.70px;transform:scaleX(0.9350);transform-origin:right center;">2</span>
<span class="t" style="top:348px;font-size:9.3px;right:310.50px;transform:scaleX(0.9350);transform-origin:right center;">-</span>
<span class="t" style="top:348px;font-size:9.3px;right:260.30px;transform:scaleX(0.9350);transform-origin:right center;">-</span>
<span class="t" style="top:348px;font-size:9.3px;right:195.90px;transform:scaleX(0.9350);transform-origin:right center;">67</span>
<span class="t" style="top:348px;font-size:9.3px;right:134.40px;transform:scaleX(0.9350);transform-origin:right center;">95</span>
<span class="t" style="top:348px;font-size:9.3px;right:71.90px;transform:scaleX(0.9350);transform-origin:right center;">905</span>
<span class="t" style="top:348px;font-size:9.3px;right:17.80px;transform:scaleX(0.9350);transform-origin:right center;">900</span>
<span class="t" style="top:357px;font-size:9.3px;left:2.00px;transform:scaleX(0.9350);transform-origin:left center;">Kans.</span>
<span class="t" style="top:357px;font-size:9.3px;right:543.50px;transform:scaleX(0.9350);transform-origin:right center;">14</span>
<span class="t" style="top:357px;font-size:9.3px;right:490.80px;transform:scaleX(0.9350);transform-origin:right center;">16</span>
<span class="t" style="top:357px;font-size:9.3px;right:425.70px;transform:scaleX(0.9350);transform-origin:right center;">-</span>
<span class="t" style="top:357px;font-size:9.3px;right:372.70px;transform:scaleX(0.9350);transform-origin:right center;">-</span>
<span class="t" style="top:357px;font-size:9.3px;right:310.50px;transform:scaleX(0.9350);transform-origin:right center;">7</span>
<span class="t" style="top:357px;font-size:9.3px;right:260.30px;transform:scaleX(0.9350);transform-origin:right center;">3</span>
<span class="t" style="top:357px;font-size:9.3px;right:195.90px;transform:scaleX(0.9350);transform-origin:right center;">93</span>
<span class="t" style="top:357px;font-size:9.3px;right:134.40px;transform:scaleX(0.9350);transform-origin:right center;">96</span>
<span class="t" style="top:357px;font-size:9.3px;right:71.90px;transform:scaleX(0.9350);transform-origin:right center;">1,542</span>
<span class="t" style="top:357px;font-size:9.3px;right:17.80px;transform:scaleX(0.9350);transform-origin:right center;">1,748</span>
<span class="t" style="top:371px;font-size:9.3px;left:2.00px;transform:scaleX(0.9350);transform-origin:left center;">S. ATLANTIC</span>
<span class="t" style="top:371px;font-size:9.3px;right:543.50px;transform:scaleX(0.9350);transform-origin:right center;">81</span>
<span class="t" style="top:371px;font-size:9.3px;right:490.80px;transform:scaleX(0.9350);transform-origin:right center;">130</span>
<span class="t" style="top:371px;font-size:9.3px;right:425.70px;transform:scaleX(0.9350);transform-origin:right center;">42</span>
<span class="t" style="top:371px;font-size:9.3px;right:372.70px;transform:scaleX(0.9350);transform-origin:right center;">17</span>
<span class="t" style="top:371px;font-size:9.3px;right:310.50px;transform:scaleX(0.9350);transform-origin:right center;">3</span>
<span class="t" style="top:371px;font-size:9.3px;right:260.30px;transform:scaleX(0.9350);transform-origin:right center;">-</span>
<span class="t" style="top:371px;font-size:9.3px;right:195.90px;transform:scaleX(0.9350);transform-origin:right center;">1,560</span>
<span class="t" style="top:371px;font-size:9.3px;right:134.40px;transform:scaleX(0.9350);transform-origin:right center;">1,622</span>
<span class="t" style="top:371px;font-size:9.3px;right:71.90px;transform:scaleX(0.9350);transform-origin:right center;">46,837</span>
<span class="t" style="top:371px;font-size:9.3px;right:17.80px;transform:scaleX(0.9350);transform-origin:right center;">54,229</span>
<span class="t" style="top:381px;font-size:9.3px;left:2.00px;transform:scaleX(0.9350);transform-origin:left center;">Del.</span>
<span class="t" style="top:381px;font-size:9.3px;right:543.50px;transform:scaleX(0.9350);transform-origin:right center;">1</span>
<span class="t" style="top:381px;font-size:9.3px;right:490.80px;transform:scaleX(0.9350);transform-origin:right center;">5</span>
<span class="t" style="top:381px;font-size:9.3px;right:425.70px;transform:scaleX(0.9350);transform-origin:right center;">N</span>
<span class="t" style="top:381px;font-size:9.3px;right:372.70px;transform:scaleX(0.9350);transform-origin:right center;">N</span>
<span class="t" style="top:381px;font-size:9.3px;right:310.50px;transform:scaleX(0.9350);transform-origin:right center;">N</span>
<span class="t" style="top:381px;font-size:9.3px;right:260.30px;transform:scaleX(0.9350);transform-origin:right center;">N</span>
<span class="t" style="top:381px;font-size:9.3px;right:195.90px;transform:scaleX(0.9350);transform-origin:right center;">18</span>
<span class="t" style="top:381px;font-size:9.3px;right:134.40px;transform:scaleX(0.9350);transform-origin:right center;">30</span>
<span class="t" style="top:381px;font-size:9.3px;right:71.90px;transform:scaleX(0.9350);transform-origin:right center;">721</span>
<span class="t" style="top:381px;font-size:9.3px;right:17.80px;transform:scaleX(0.9350);transform-origin:right center;">974</span>
<span class="t" style="top:390px;font-size:9.3px;left:2.00px;transform:scaleX(0.9350);transform-origin:left center;">Md.</span>
<span class="t" style="top:390px;font-size:9.3px;right:543.50px;transform:scaleX(0.9350);transform-origin:right center;">2</span>
<span class="t" style="top:390px;font-size:9.3px;right:490.80px;transform:scaleX(0.9350);transform-origin:right center;">13</span>
<span class="t" style="top:390px;font-size:9.3px;right:425.70px;transform:scaleX(0.9350);transform-origin:right center;">-</span>
<span class="t" style="top:390px;font-size:9.3px;right:372.70px;transform:scaleX(0.9350);transform-origin:right center;">-</span>
<span class="t" style="top:390px;font-size:9.3px;right:310.50px;transform:scaleX(0.9350);transform-origin:right center;">-</span>
<span class="t" style="top:390px;font-size:9.3px;right:260.30px;transform:scaleX(0.9350);transform-origin:right center;">-</span>
<span class="t" style="top:390px;font-size:9.3px;right:195.90px;transform:scaleX(0.9350);transform-origin:right center;">66</span>
<span class="t" style="top:390px;font-size:9.3px;right:134.40px;transform:scaleX(0.9350);transform-origin:right center;">62</span>
<span class="t" style="top:390px;font-size:9.3px;right:71.90px;transform:scaleX(0.9350);transform-origin:right center;">4,736</span>
<span class="t" style="top:390px;font-size:9.3px;right:17.80px;transform:scaleX(0.9350);transform-origin:right center;">5,380</span>
<span class="t" style="top:399px;font-size:9.3px;left:2.00px;transform:scaleX(0.9350);transform-origin:left center;">D.C.</span>
<span class="t" style="top:399px;font-size:9.3px;right:543.50px;transform:scaleX(0.9350);transform-origin:right center;">1</span>
<span class="t" style="top:399px;font-size:9.3px;right:490.80px;transform:scaleX(0.9350);transform-origin:right center;">-</span>
<span class="t" style="top:399px;font-size:9.3px;right:425.70px;transform:scaleX(0.9350);transform-origin:right center;">-</span>
<span class="t" style="top:399px;font-size:9.3px;right:372.70px;transform:scaleX(0.9350);transform-origin:right center;">-</span>
<span class="t" style="top:399px;font-size:9.3px;right:310.50px;transform:scaleX(0.9350);transform-origin:right center;">-</span>
<span class="t" style="top:399px;font-size:9.3px;right:260.30px;transform:scaleX(0.9350);transform-origin:right center;">-</span>
<span class="t" style="top:399px;font-size:9.3px;right:195.90px;transform:scaleX(0.9350);transform-origin:right center;">25</span>
<span class="t" style="top:399px;font-size:9.3px;right:134.40px;transform:scaleX(0.9350);transform-origin:right center;">28</span>
<span class="t" style="top:399px;font-size:9.3px;right:71.90px;transform:scaleX(0.9350);transform-origin:right center;">1,399</span>
<span class="t" style="top:399px;font-size:9.3px;right:17.80px;transform:scaleX(0.9350);transform-origin:right center;">1,624</span>
<span class="t" style="top:409px;font-size:9.3px;left:2.00px;transform:scaleX(0.9350);transform-origin:left center;">Va.</span>
<span class="t" style="top:409px;font-size:9.3px;right:543.50px;transform:scaleX(0.9350);transform-origin:right center;">22</span>
<span class="t" style="top:409px;font-size:9.3px;right:490.80px;transform:scaleX(0.9350);transform-origin:right center;">29</span>
<span class="t" style="top:409px;font-size:9.3px;right:425.70px;transform:scaleX(0.9350);transform-origin:right center;">5</span>
<span class="t" style="top:409px;font-size:9.3px;right:372.70px;transform:scaleX(0.9350);transform-origin:right center;">2</span>
<span class="t" style="top:409px;font-size:9.3px;right:310.50px;transform:scaleX(0.9350);transform-origin:right center;">-</span>
<span class="t" style="top:409px;font-size:9.3px;right:260.30px;transform:scaleX(0.9350);transform-origin:right center;">-</span>
<span class="t" style="top:409px;font-size:9.3px;right:195.90px;transform:scaleX(0.9350);transform-origin:right center;">208</span>
<span class="t" style="top:409px;font-size:9.3px;right:134.40px;transform:scaleX(0.9350);transform-origin:right center;">126</span>
<span class="t" style="top:409px;font-size:9.3px;right:71.90px;transform:scaleX(0.9350);transform-origin:right center;">4,926</span>
<span class="t" style="top:409px;font-size:9.3px;right:17.80px;transform:scaleX(0.9350);transform-origin:right center;">6,101</span>
<span class="t" style="top:418px;font-size:9.3px;left:2.00px;transform:scaleX(0.9350);transform-origin:left center;">W. Va.</span>
<span class="t" style="top:418px;font-size:9.3px;right:543.50px;transform:scaleX(0.9350);transform-origin:right center;">3</span>
<span class="t" style="top:418px;font-size:9.3px;right:490.80px;transform:scaleX(0.9350);transform-origin:right center;">2</span>
<span class="t" style="top:418px;font-size:9.3px;right:425.70px;transform:scaleX(0.9350);transform-origin:right center;">-</span>
<span class="t" style="top:418px;font-size:9.3px;right:372.70px;transform:scaleX(0.9350);transform-origin:right center;">-</span>
<span class="t" style="top:418px;font-size:9.3px;right:310.50px;transform:scaleX(0.9350);transform-origin:right center;">-</span>
<span class="t" style="top:418px;font-size:9.3px;right:260.30px;transform:scaleX(0.9350);transform-origin:right center;">-</span>
<span class="t" style="top:418px;font-size:9.3px;right:195.90px;transform:scaleX(0.9350);transform-origin:right center;">24</span>
<span class="t" style="top:418px;font-size:9.3px;right:134.40px;transform:scaleX(0.9350);transform-origin:right center;">27</span>
<span class="t" style="top:418px;font-size:9.3px;right:71.90px;transform:scaleX(0.9350);transform-origin:right center;">524</span>
<span class="t" style="top:418px;font-size:9.3px;right:17.80px;transform:scaleX(0.9350);transform-origin:right center;">608</span>
<span class="t" style="top:428px;font-size:9.3px;left:2.00px;transform:scaleX(0.9350);transform-origin:left center;">N.C.</span>
<span class="t" style="top:428px;font-size:9.3px;right:543.50px;transform:scaleX(0.9350);transform-origin:right center;">5</span>
<span class="t" style="top:428px;font-size:9.3px;right:490.80px;transform:scaleX(0.9350);transform-origin:right center;">23</span>
<span class="t" style="top:428px;font-size:9.3px;right:425.70px;transform:scaleX(0.9350);transform-origin:right center;">12</span>
<span class="t" style="top:428px;font-size:9.3px;right:372.70px;transform:scaleX(0.9350);transform-origin:right center;">-</span>
<span class="t" style="top:428px;font-size:9.3px;right:310.50px;transform:scaleX(0.9350);transform-origin:right center;">-</span>
<span class="t" style="top:428px;font-size:9.3px;right:260.30px;transform:scaleX(0.9350);transform-origin:right center;">-</span>
<span class="t" style="top:428px;font-size:9.3px;right:195.90px;transform:scaleX(0.9350);transform-origin:right center;">N</span>
<span class="t" style="top:428px;font-size:9.3px;right:134.40px;transform:scaleX(0.9350);transform-origin:right center;">N</span>
<span class="t" style="top:428px;font-size:9.3px;right:71.90px;transform:scaleX(0.9350);transform-origin:right center;">9,031</span>
<span class="t" style="top:428px;font-size:9.3px;right:17.80px;transform:scaleX(0.9350);transform-origin:right center;">10,029</span>
<span class="t" style="top:436px;font-size:9.3px;left:2.00px;transform:scaleX(0.9350);transform-origin:left center;">S.C.</span>
<span class="t" style="top:436px;font-size:9.3px;right:543.50px;transform:scaleX(0.9350);transform-origin:right center;">-</span>
<span class="t" style="top:436px;font-size:9.3px;right:490.80px;transform:scaleX(0.9350);transform-origin:right center;">2</span>
<span class="t" style="top:436px;font-size:9.3px;right:425.70px;transform:scaleX(0.9350);transform-origin:right center;">-</span>
<span class="t" style="top:436px;font-size:9.3px;right:372.70px;transform:scaleX(0.9350);transform-origin:right center;">-</span>
<span class="t" style="top:436px;font-size:9.3px;right:310.50px;transform:scaleX(0.9350);transform-origin:right center;">-</span>
<span class="t" style="top:436px;font-size:9.3px;right:260.30px;transform:scaleX(0.9350);transform-origin:right center;">-</span>
<span class="t" style="top:436px;font-size:9.3px;right:195.90px;transform:scaleX(0.9350);transform-origin:right center;">68</span>
<span class="t" style="top:436px;font-size:9.3px;right:134.40px;transform:scaleX(0.9350);transform-origin:right center;">50</span>
<span class="t" style="top:436px;font-size:9.3px;right:71.90px;transform:scaleX(0.9350);transform-origin:right center;">4,671</span>
<span class="t" style="top:436px;font-size:9.3px;right:17.80px;transform:scaleX(0.9350);transform-origin:right center;">5,522</span>
<span class="t" style="top:446px;font-size:9.3px;left:2.00px;transform:scaleX(0.9350);transform-origin:left center;">Ga.</span>
<span class="t" style="top:446px;font-size:9.3px;right:543.50px;transform:scaleX(0.9350);transform-origin:right center;">18</span>
<span class="t" style="top:446px;font-size:9.3px;right:490.80px;transform:scaleX(0.9350);transform-origin:right center;">34</span>
<span class="t" style="top:446px;font-size:9.3px;right:425.70px;transform:scaleX(0.9350);transform-origin:right center;">2</span>
<span class="t" style="top:446px;font-size:9.3px;right:372.70px;transform:scaleX(0.9350);transform-origin:right center;">7</span>
<span class="t" style="top:446px;font-size:9.3px;right:310.50px;transform:scaleX(0.9350);transform-origin:right center;">-</span>
<span class="t" style="top:446px;font-size:9.3px;right:260.30px;transform:scaleX(0.9350);transform-origin:right center;">-</span>
<span class="t" style="top:446px;font-size:9.3px;right:195.90px;transform:scaleX(0.9350);transform-origin:right center;">543</span>
<span class="t" style="top:446px;font-size:9.3px;right:134.40px;transform:scaleX(0.9350);transform-origin:right center;">531</span>
<span class="t" style="top:446px;font-size:9.3px;right:71.90px;transform:scaleX(0.9350);transform-origin:right center;">10,098</span>
<span class="t" style="top:446px;font-size:9.3px;right:17.80px;transform:scaleX(0.9350);transform-origin:right center;">10,584</span>
<span class="t" style="top:455px;font-size:9.3px;left:2.00px;transform:scaleX(0.9350);transform-origin:left center;">Fla.</span>
<span class="t" style="top:455px;font-size:9.3px;right:543.50px;transform:scaleX(0.9350);transform-origin:right center;">29</span>
<span class="t" style="top:455px;font-size:9.3px;right:490.80px;transform:scaleX(0.9350);transform-origin:right center;">22</span>
<span class="t" style="top:455px;font-size:9.3px;right:425.70px;transform:scaleX(0.9350);transform-origin:right center;">23</span>
<span class="t" style="top:455px;font-size:9.3px;right:372.70px;transform:scaleX(0.9350);transform-origin:right center;">8</span>
<span class="t" style="top:455px;font-size:9.3px;right:310.50px;transform:scaleX(0.9350);transform-origin:right center;">3</span>
<span class="t" style="top:455px;font-size:9.3px;right:260.30px;transform:scaleX(0.9350);transform-origin:right center;">-</span>
<span class="t" style="top:455px;font-size:9.3px;right:195.90px;transform:scaleX(0.9350);transform-origin:right center;">608</span>
<span class="t" style="top:455px;font-size:9.3px;right:134.40px;transform:scaleX(0.9350);transform-origin:right center;">768</span>
<span class="t" style="top:455px;font-size:9.3px;right:71.90px;transform:scaleX(0.9350);transform-origin:right center;">10,731</span>
<span class="t" style="top:455px;font-size:9.3px;right:17.80px;transform:scaleX(0.9350);transform-origin:right center;">13,407</span>
<span class="t" style="top:470px;font-size:9.3px;left:2.00px;transform:scaleX(0.9350);transform-origin:left center;">E.S. CENTRAL</span>
<span class="t" style="top:470px;font-size:9.3px;right:543.50px;transform:scaleX(0.9350);transform-origin:right center;">44</span>
<span class="t" style="top:470px;font-size:9.3px;right:490.80px;transform:scaleX(0.9350);transform-origin:right center;">60</span>
<span class="t" style="top:470px;font-size:9.3px;right:425.70px;transform:scaleX(0.9350);transform-origin:right center;">-</span>
<span class="t" style="top:470px;font-size:9.3px;right:372.70px;transform:scaleX(0.9350);transform-origin:right center;">-</span>
<span class="t" style="top:470px;font-size:9.3px;right:310.50px;transform:scaleX(0.9350);transform-origin:right center;">5</span>
<span class="t" style="top:470px;font-size:9.3px;right:260.30px;transform:scaleX(0.9350);transform-origin:right center;">7</span>
<span class="t" style="top:470px;font-size:9.3px;right:195.90px;transform:scaleX(0.9350);transform-origin:right center;">185</span>
<span class="t" style="top:470px;font-size:9.3px;right:134.40px;transform:scaleX(0.9350);transform-origin:right center;">199</span>
<span class="t" style="top:470px;font-size:9.3px;right:71.90px;transform:scaleX(0.9350);transform-origin:right center;">15,768</span>
<span class="t" style="top:470px;font-size:9.3px;right:17.80px;transform:scaleX(0.9350);transform-origin:right center;">18,385</span>
<span class="t" style="top:479px;font-size:9.3px;left:2.00px;transform:scaleX(0.9350);transform-origin:left center;">Ky.</span>
<span class="t" style="top:479px;font-size:9.3px;right:543.50px;transform:scaleX(0.9350);transform-origin:right center;">13</span>
<span class="t" style="top:479px;font-size:9.3px;right:490.80px;transform:scaleX(0.9350);transform-origin:right center;">14</span>
<span class="t" style="top:479px;font-size:9.3px;right:425.70px;transform:scaleX(0.9350);transform-origin:right center;">-</span>
<span class="t" style="top:479px;font-size:9.3px;right:372.70px;transform:scaleX(0.9350);transform-origin:right center;">-</span>
<span class="t" style="top:479px;font-size:9.3px;right:310.50px;transform:scaleX(0.9350);transform-origin:right center;">5</span>
<span class="t" style="top:479px;font-size:9.3px;right:260.30px;transform:scaleX(0.9350);transform-origin:right center;">7</span>
<span class="t" style="top:479px;font-size:9.3px;right:195.90px;transform:scaleX(0.9350);transform-origin:right center;">N</span>
<span class="t" style="top:479px;font-size:9.3px;right:134.40px;transform:scaleX(0.9350);transform-origin:right center;">N</span>
<span class="t" style="top:479px;font-size:9.3px;right:71.90px;transform:scaleX(0.9350);transform-origin:right center;">2,179</span>
<span class="t" style="top:479px;font-size:9.3px;right:17.80px;transform:scaleX(0.9350);transform-origin:right center;">2,116</span>
<span class="t" style="top:488px;font-size:9.3px;left:2.00px;transform:scaleX(0.9350);transform-origin:left center;">Tenn.</span>
<span class="t" style="top:488px;font-size:9.3px;right:543.50px;transform:scaleX(0.9350);transform-origin:right center;">18</span>
<span class="t" style="top:488px;font-size:9.3px;right:490.80px;transform:scaleX(0.9350);transform-origin:right center;">26</span>
<span class="t" style="top:488px;font-size:9.3px;right:425.70px;transform:scaleX(0.9350);transform-origin:right center;">-</span>
<span class="t" style="top:488px;font-size:9.3px;right:372.70px;transform:scaleX(0.9350);transform-origin:right center;">-</span>
<span class="t" style="top:488px;font-size:9.3px;right:310.50px;transform:scaleX(0.9350);transform-origin:right center;">-</span>
<span class="t" style="top:488px;font-size:9.3px;right:260.30px;transform:scaleX(0.9350);transform-origin:right center;">-</span>
<span class="t" style="top:488px;font-size:9.3px;right:195.90px;transform:scaleX(0.9350);transform-origin:right center;">85</span>
<span class="t" style="top:488px;font-size:9.3px;right:134.40px;transform:scaleX(0.9350);transform-origin:right center;">91</span>
<span class="t" style="top:488px;font-size:9.3px;right:71.90px;transform:scaleX(0.9350);transform-origin:right center;">4,747</span>
<span class="t" style="top:488px;font-size:9.3px;right:17.80px;transform:scaleX(0.9350);transform-origin:right center;">5,627</span>
<span class="t" style="top:498px;font-size:9.3px;left:2.00px;transform:scaleX(0.9350);transform-origin:left center;">Ala.</span>
<span class="t" style="top:498px;font-size:9.3px;right:543.50px;transform:scaleX(0.9350);transform-origin:right center;">10</span>
<span class="t" style="top:498px;font-size:9.3px;right:490.80px;transform:scaleX(0.9350);transform-origin:right center;">13</span>
<span class="t" style="top:498px;font-size:9.3px;right:425.70px;transform:scaleX(0.9350);transform-origin:right center;">-</span>
<span class="t" style="top:498px;font-size:9.3px;right:372.70px;transform:scaleX(0.9350);transform-origin:right center;">-</span>
<span class="t" style="top:498px;font-size:9.3px;right:310.50px;transform:scaleX(0.9350);transform-origin:right center;">-</span>
<span class="t" style="top:498px;font-size:9.3px;right:260.30px;transform:scaleX(0.9350);transform-origin:right center;">-</span>
<span class="t" style="top:498px;font-size:9.3px;right:195.90px;transform:scaleX(0.9350);transform-origin:right center;">100</span>
<span class="t" style="top:498px;font-size:9.3px;right:134.40px;transform:scaleX(0.9350);transform-origin:right center;">108</span>
<span class="t" style="top:498px;font-size:9.3px;right:71.90px;transform:scaleX(0.9350);transform-origin:right center;">5,086</span>
<span class="t" style="top:498px;font-size:9.3px;right:17.80px;transform:scaleX(0.9350);transform-origin:right center;">6,487</span>
<span class="t" style="top:507px;font-size:9.3px;left:2.00px;transform:scaleX(0.9350);transform-origin:left center;">Miss.</span>
<span class="t" style="top:507px;font-size:9.3px;right:543.50px;transform:scaleX(0.9350);transform-origin:right center;">3</span>
<span class="t" style="top:507px;font-size:9.3px;right:490.80px;transform:scaleX(0.9350);transform-origin:right center;">7</span>
<span class="t" style="top:507px;font-size:9.3px;right:425.70px;transform:scaleX(0.9350);transform-origin:right center;">-</span>
<span class="t" style="top:507px;font-size:9.3px;right:372.70px;transform:scaleX(0.9350);transform-origin:right center;">-</span>
<span class="t" style="top:507px;font-size:9.3px;right:310.50px;transform:scaleX(0.9350);transform-origin:right center;">-</span>
<span class="t" style="top:507px;font-size:9.3px;right:260.30px;transform:scaleX(0.9350);transform-origin:right center;">-</span>
<span class="t" style="top:507px;font-size:9.3px;right:195.90px;transform:scaleX(0.9350);transform-origin:right center;">-</span>
<span class="t" style="top:507px;font-size:9.3px;right:134.40px;transform:scaleX(0.9350);transform-origin:right center;">-</span>
<span class="t" style="top:507px;font-size:9.3px;right:71.90px;transform:scaleX(0.9350);transform-origin:right center;">3,756</span>
<span class="t" style="top:507px;font-size:9.3px;right:17.80px;transform:scaleX(0.9350);transform-origin:right center;">4,155</span>
<span class="t" style="top:522px;font-size:9.3px;left:2.00px;transform:scaleX(0.9350);transform-origin:left center;">W.S. CENTRAL</span>
<span class="t" style="top:522px;font-size:9.3px;right:543.50px;transform:scaleX(0.9350);transform-origin:right center;">29</span>
<span class="t" style="top:522px;font-size:9.3px;right:490.80px;transform:scaleX(0.9350);transform-origin:right center;">64</span>
<span class="t" style="top:522px;font-size:9.3px;right:425.70px;transform:scaleX(0.9350);transform-origin:right center;">1</span>
<span class="t" style="top:522px;font-size:9.3px;right:372.70px;transform:scaleX(0.9350);transform-origin:right center;">-</span>
<span class="t" style="top:522px;font-size:9.3px;right:310.50px;transform:scaleX(0.9350);transform-origin:right center;">3</span>
<span class="t" style="top:522px;font-size:9.3px;right:260.30px;transform:scaleX(0.9350);transform-origin:right center;">2</span>
<span class="t" style="top:522px;font-size:9.3px;right:195.90px;transform:scaleX(0.9350);transform-origin:right center;">164</span>
<span class="t" style="top:522px;font-size:9.3px;right:134.40px;transform:scaleX(0.9350);transform-origin:right center;">112</span>
<span class="t" style="top:522px;font-size:9.3px;right:71.90px;transform:scaleX(0.9350);transform-origin:right center;">25,582</span>
<span class="t" style="top:522px;font-size:9.3px;right:17.80px;transform:scaleX(0.9350);transform-origin:right center;">29,815</span>
<span class="t" style="top:531px;font-size:9.3px;left:2.00px;transform:scaleX(0.9350);transform-origin:left center;">Ark.</span>
<span class="t" style="top:531px;font-size:9.3px;right:543.50px;transform:scaleX(0.9350);transform-origin:right center;">4</span>
<span class="t" style="top:531px;font-size:9.3px;right:490.80px;transform:scaleX(0.9350);transform-origin:right center;">5</span>
<span class="t" style="top:531px;font-size:9.3px;right:425.70px;transform:scaleX(0.9350);transform-origin:right center;">-</span>
<span class="t" style="top:531px;font-size:9.3px;right:372.70px;transform:scaleX(0.9350);transform-origin:right center;">-</span>
<span class="t" style="top:531px;font-size:9.3px;right:310.50px;transform:scaleX(0.9350);transform-origin:right center;">-</span>
<span class="t" style="top:531px;font-size:9.3px;right:260.30px;transform:scaleX(0.9350);transform-origin:right center;">-</span>
<span class="t" style="top:531px;font-size:9.3px;right:195.90px;transform:scaleX(0.9350);transform-origin:right center;">88</span>
<span class="t" style="top:531px;font-size:9.3px;right:134.40px;transform:scaleX(0.9350);transform-origin:right center;">79</span>
<span class="t" style="top:531px;font-size:9.3px;right:71.90px;transform:scaleX(0.9350);transform-origin:right center;">2,427</span>
<span class="t" style="top:531px;font-size:9.3px;right:17.80px;transform:scaleX(0.9350);transform-origin:right center;">2,847</span>
<span class="t" style="top:540px;font-size:9.3px;left:2.00px;transform:scaleX(0.9350);transform-origin:left center;">La.</span>
<span class="t" style="top:540px;font-size:9.3px;right:543.50px;transform:scaleX(0.9350);transform-origin:right center;">2</span>
<span class="t" style="top:540px;font-size:9.3px;right:490.80px;transform:scaleX(0.9350);transform-origin:right center;">2</span>
<span class="t" style="top:540px;font-size:9.3px;right:425.70px;transform:scaleX(0.9350);transform-origin:right center;">-</span>
<span class="t" style="top:540px;font-size:9.3px;right:372.70px;transform:scaleX(0.9350);transform-origin:right center;">-</span>
<span class="t" style="top:540px;font-size:9.3px;right:310.50px;transform:scaleX(0.9350);transform-origin:right center;">-</span>
<span class="t" style="top:540px;font-size:9.3px;right:260.30px;transform:scaleX(0.9350);transform-origin:right center;">-</span>
<span class="t" style="top:540px;font-size:9.3px;right:195.90px;transform:scaleX(0.9350);transform-origin:right center;">5</span>
<span class="t" style="top:540px;font-size:9.3px;right:134.40px;transform:scaleX(0.9350);transform-origin:right center;">2</span>
<span class="t" style="top:540px;font-size:9.3px;right:71.90px;transform:scaleX(0.9350);transform-origin:right center;">6,613</span>
<span class="t" style="top:540px;font-size:9.3px;right:17.80px;transform:scaleX(0.9350);transform-origin:right center;">7,247</span>
<span class="t" style="top:550px;font-size:9.3px;left:2.00px;transform:scaleX(0.9350);transform-origin:left center;">Okla.</span>
<span class="t" style="top:550px;font-size:9.3px;right:543.50px;transform:scaleX(0.9350);transform-origin:right center;">13</span>
<span class="t" style="top:550px;font-size:9.3px;right:490.80px;transform:scaleX(0.9350);transform-origin:right center;">13</span>
<span class="t" style="top:550px;font-size:9.3px;right:425.70px;transform:scaleX(0.9350);transform-origin:right center;">-</span>
<span class="t" style="top:550px;font-size:9.3px;right:372.70px;transform:scaleX(0.9350);transform-origin:right center;">-</span>
<span class="t" style="top:550px;font-size:9.3px;right:310.50px;transform:scaleX(0.9350);transform-origin:right center;">-</span>
<span class="t" style="top:550px;font-size:9.3px;right:260.30px;transform:scaleX(0.9350);transform-origin:right center;">-</span>
<span class="t" style="top:550px;font-size:9.3px;right:195.90px;transform:scaleX(0.9350);transform-origin:right center;">71</span>
<span class="t" style="top:550px;font-size:9.3px;right:134.40px;transform:scaleX(0.9350);transform-origin:right center;">30</span>
<span class="t" style="top:550px;font-size:9.3px;right:71.90px;transform:scaleX(0.9350);transform-origin:right center;">2,691</span>
<span class="t" style="top:550px;font-size:9.3px;right:17.80px;transform:scaleX(0.9350);transform-origin:right center;">2,990</span>
<span class="t" style="top:559px;font-size:9.3px;left:2.00px;transform:scaleX(0.9350);transform-origin:left center;">Tex.</span>
<span class="t" style="top:559px;font-size:9.3px;right:543.50px;transform:scaleX(0.9350);transform-origin:right center;">10</span>
<span class="t" style="top:559px;font-size:9.3px;right:490.80px;transform:scaleX(0.9350);transform-origin:right center;">44</span>
<span class="t" style="top:559px;font-size:9.3px;right:425.70px;transform:scaleX(0.9350);transform-origin:right center;">1</span>
<span class="t" style="top:559px;font-size:9.3px;right:372.70px;transform:scaleX(0.9350);transform-origin:right center;">-</span>
<span class="t" style="top:559px;font-size:9.3px;right:310.50px;transform:scaleX(0.9350);transform-origin:right center;">3</span>
<span class="t" style="top:559px;font-size:9.3px;right:260.30px;transform:scaleX(0.9350);transform-origin:right center;">2</span>
<span class="t" style="top:559px;font-size:9.3px;right:195.90px;transform:scaleX(0.9350);transform-origin:right center;">-</span>
<span class="t" style="top:559px;font-size:9.3px;right:134.40px;transform:scaleX(0.9350);transform-origin:right center;">1</span>
<span class="t" style="top:559px;font-size:9.3px;right:71.90px;transform:scaleX(0.9350);transform-origin:right center;">13,851</span>
<span class="t" style="top:559px;font-size:9.3px;right:17.80px;transform:scaleX(0.9350);transform-origin:right center;">16,731</span>
<span class="t" style="top:574px;font-size:9.3px;left:2.00px;transform:scaleX(0.9350);transform-origin:left center;">MOUNTAIN</span>
<span class="t" style="top:574px;font-size:9.3px;right:543.50px;transform:scaleX(0.9350);transform-origin:right center;">129</span>
<span class="t" style="top:574px;font-size:9.3px;right:490.80px;transform:scaleX(0.9350);transform-origin:right center;">157</span>
<span class="t" style="top:574px;font-size:9.3px;right:425.70px;transform:scaleX(0.9350);transform-origin:right center;">11</span>
<span class="t" style="top:574px;font-size:9.3px;right:372.70px;transform:scaleX(0.9350);transform-origin:right center;">13</span>
<span class="t" style="top:574px;font-size:9.3px;right:310.50px;transform:scaleX(0.9350);transform-origin:right center;">6</span>
<span class="t" style="top:574px;font-size:9.3px;right:260.30px;transform:scaleX(0.9350);transform-origin:right center;">4</span>
<span class="t" style="top:574px;font-size:9.3px;right:195.90px;transform:scaleX(0.9350);transform-origin:right center;">803</span>
<span class="t" style="top:574px;font-size:9.3px;right:134.40px;transform:scaleX(0.9350);transform-origin:right center;">842</span>
<span class="t" style="top:574px;font-size:9.3px;right:71.90px;transform:scaleX(0.9350);transform-origin:right center;">6,020</span>
<span class="t" style="top:574px;font-size:9.3px;right:17.80px;transform:scaleX(0.9350);transform-origin:right center;">6,619</span>
<span class="t" style="top:583px;font-size:9.3px;left:2.00px;transform:scaleX(0.9350);transform-origin:left center;">Mont.</span>
<span class="t" style="top:583px;font-size:9.3px;right:543.50px;transform:scaleX(0.9350);transform-origin:right center;">4</span>
<span class="t" style="top:583px;font-size:9.3px;right:490.80px;transform:scaleX(0.9350);transform-origin:right center;">10</span>
<span class="t" style="top:583px;font-size:9.3px;right:425.70px;transform:scaleX(0.9350);transform-origin:right center;">-</span>
<span class="t" style="top:583px;font-size:9.3px;right:372.70px;transform:scaleX(0.9350);transform-origin:right center;">-</span>
<span class="t" style="top:583px;font-size:9.3px;right:310.50px;transform:scaleX(0.9350);transform-origin:right center;">-</span>
<span class="t" style="top:583px;font-size:9.3px;right:260.30px;transform:scaleX(0.9350);transform-origin:right center;">-</span>
<span class="t" style="top:583px;font-size:9.3px;right:195.90px;transform:scaleX(0.9350);transform-origin:right center;">42</span>
<span class="t" style="top:583px;font-size:9.3px;right:134.40px;transform:scaleX(0.9350);transform-origin:right center;">52</span>
<span class="t" style="top:583px;font-size:9.3px;right:71.90px;transform:scaleX(0.9350);transform-origin:right center;">68</span>
<span class="t" style="top:583px;font-size:9.3px;right:17.80px;transform:scaleX(0.9350);transform-origin:right center;">55</span>
<span class="t" style="top:593px;font-size:9.3px;left:2.00px;transform:scaleX(0.9350);transform-origin:left center;">Idaho</span>
<span class="t" style="top:593px;font-size:9.3px;right:543.50px;transform:scaleX(0.9350);transform-origin:right center;">26</span>
<span class="t" style="top:593px;font-size:9.3px;right:490.80px;transform:scaleX(0.9350);transform-origin:right center;">12</span>
<span class="t" style="top:593px;font-size:9.3px;right:425.70px;transform:scaleX(0.9350);transform-origin:right center;">6</span>
<span class="t" style="top:593px;font-size:9.3px;right:372.70px;transform:scaleX(0.9350);transform-origin:right center;">5</span>
<span class="t" style="top:593px;font-size:9.3px;right:310.50px;transform:scaleX(0.9350);transform-origin:right center;">-</span>
<span class="t" style="top:593px;font-size:9.3px;right:260.30px;transform:scaleX(0.9350);transform-origin:right center;">-</span>
<span class="t" style="top:593px;font-size:9.3px;right:195.90px;transform:scaleX(0.9350);transform-origin:right center;">90</span>
<span class="t" style="top:593px;font-size:9.3px;right:134.40px;transform:scaleX(0.9350);transform-origin:right center;">61</span>
<span class="t" style="top:593px;font-size:9.3px;right:71.90px;transform:scaleX(0.9350);transform-origin:right center;">43</span>
<span class="t" style="top:593px;font-size:9.3px;right:17.80px;transform:scaleX(0.9350);transform-origin:right center;">51</span>
<span class="t" style="top:602px;font-size:9.3px;left:2.00px;transform:scaleX(0.9350);transform-origin:left center;">Wyo.</span>
<span class="t" style="top:602px;font-size:9.3px;right:543.50px;transform:scaleX(0.9350);transform-origin:right center;">2</span>
<span class="t" style="top:602px;font-size:9.3px;right:490.80px;transform:scaleX(0.9350);transform-origin:right center;">5</span>
<span class="t" style="top:602px;font-size:9.3px;right:425.70px;transform:scaleX(0.9350);transform-origin:right center;">-</span>
<span class="t" style="top:602px;font-size:9.3px;right:372.70px;transform:scaleX(0.9350);transform-origin:right center;">1</span>
<span class="t" style="top:602px;font-size:9.3px;right:310.50px;transform:scaleX(0.9350);transform-origin:right center;">-</span>
<span class="t" style="top:602px;font-size:9.3px;right:260.30px;transform:scaleX(0.9350);transform-origin:right center;">-</span>
<span class="t" style="top:602px;font-size:9.3px;right:195.90px;transform:scaleX(0.9350);transform-origin:right center;">11</span>
<span class="t" style="top:602px;font-size:9.3px;right:134.40px;transform:scaleX(0.9350);transform-origin:right center;">17</span>
<span class="t" style="top:602px;font-size:9.3px;right:71.90px;transform:scaleX(0.9350);transform-origin:right center;">28</span>
<span class="t" style="top:602px;font-size:9.3px;right:17.80px;transform:scaleX(0.9350);transform-origin:right center;">36</span>
<span class="t" style="top:611px;font-size:9.3px;left:2.00px;transform:scaleX(0.9350);transform-origin:left center;">Colo.</span>
<span class="t" style="top:611px;font-size:9.3px;right:543.50px;transform:scaleX(0.9350);transform-origin:right center;">35</span>
<span class="t" style="top:611px;font-size:9.3px;right:490.80px;transform:scaleX(0.9350);transform-origin:right center;">58</span>
<span class="t" style="top:611px;font-size:9.3px;right:425.70px;transform:scaleX(0.9350);transform-origin:right center;">2</span>
<span class="t" style="top:611px;font-size:9.3px;right:372.70px;transform:scaleX(0.9350);transform-origin:right center;">4</span>
<span class="t" style="top:611px;font-size:9.3px;right:310.50px;transform:scaleX(0.9350);transform-origin:right center;">6</span>
<span class="t" style="top:611px;font-size:9.3px;right:260.30px;transform:scaleX(0.9350);transform-origin:right center;">4</span>
<span class="t" style="top:611px;font-size:9.3px;right:195.90px;transform:scaleX(0.9350);transform-origin:right center;">225</span>
<span class="t" style="top:611px;font-size:9.3px;right:134.40px;transform:scaleX(0.9350);transform-origin:right center;">277</span>
<span class="t" style="top:611px;font-size:9.3px;right:71.90px;transform:scaleX(0.9350);transform-origin:right center;">1,530</span>
<span class="t" style="top:611px;font-size:9.3px;right:17.80px;transform:scaleX(0.9350);transform-origin:right center;">2,080</span>
<span class="t" style="top:621px;font-size:9.3px;left:2.00px;transform:scaleX(0.9350);transform-origin:left center;">N. Mex.</span>
<span class="t" style="top:621px;font-size:9.3px;right:543.50px;transform:scaleX(0.9350);transform-origin:right center;">4</span>
<span class="t" style="top:621px;font-size:9.3px;right:490.80px;transform:scaleX(0.9350);transform-origin:right center;">4</span>
<span class="t" style="top:621px;font-size:9.3px;right:425.70px;transform:scaleX(0.9350);transform-origin:right center;">3</span>
<span class="t" style="top:621px;font-size:9.3px;right:372.70px;transform:scaleX(0.9350);transform-origin:right center;">3</span>
<span class="t" style="top:621px;font-size:9.3px;right:310.50px;transform:scaleX(0.9350);transform-origin:right center;">-</span>
<span class="t" style="top:621px;font-size:9.3px;right:260.30px;transform:scaleX(0.9350);transform-origin:right center;">-</span>
<span class="t" style="top:621px;font-size:9.3px;right:195.90px;transform:scaleX(0.9350);transform-origin:right center;">23</span>
<span class="t" style="top:621px;font-size:9.3px;right:134.40px;transform:scaleX(0.9350);transform-origin:right center;">94</span>
<span class="t" style="top:621px;font-size:9.3px;right:71.90px;transform:scaleX(0.9350);transform-origin:right center;">692</span>
<span class="t" style="top:621px;font-size:9.3px;right:17.80px;transform:scaleX(0.9350);transform-origin:right center;">914</span>
<span class="t" style="top:630px;font-size:9.3px;left:2.00px;transform:scaleX(0.9350);transform-origin:left center;">Ariz.</span>
<span class="t" style="top:630px;font-size:9.3px;right:543.50px;transform:scaleX(0.9350);transform-origin:right center;">19</span>
<span class="t" style="top:630px;font-size:9.3px;right:490.80px;transform:scaleX(0.9350);transform-origin:right center;">18</span>
<span class="t" style="top:630px;font-size:9.3px;right:425.70px;transform:scaleX(0.9350);transform-origin:right center;">N</span>
<span class="t" style="top:630px;font-size:9.3px;right:372.70px;transform:scaleX(0.9350);transform-origin:right center;">N</span>
<span class="t" style="top:630px;font-size:9.3px;right:310.50px;transform:scaleX(0.9350);transform-origin:right center;">N</span>
<span class="t" style="top:630px;font-size:9.3px;right:260.30px;transform:scaleX(0.9350);transform-origin:right center;">N</span>
<span class="t" style="top:630px;font-size:9.3px;right:195.90px;transform:scaleX(0.9350);transform-origin:right center;">148</span>
<span class="t" style="top:630px;font-size:9.3px;right:134.40px;transform:scaleX(0.9350);transform-origin:right center;">113</span>
<span class="t" style="top:630px;font-size:9.3px;right:71.90px;transform:scaleX(0.9350);transform-origin:right center;">2,297</span>
<span class="t" style="top:630px;font-size:9.3px;right:17.80px;transform:scaleX(0.9350);transform-origin:right center;">2,168</span>
<span class="t" style="top:639px;font-size:9.3px;left:2.00px;transform:scaleX(0.9350);transform-origin:left center;">Utah</span>
<span class="t" style="top:639px;font-size:9.3px;right:543.50px;transform:scaleX(0.9350);transform-origin:right center;">29</span>
<span class="t" style="top:639px;font-size:9.3px;right:490.80px;transform:scaleX(0.9350);transform-origin:right center;">35</span>
<span class="t" style="top:639px;font-size:9.3px;right:425.70px;transform:scaleX(0.9350);transform-origin:right center;">-</span>
<span class="t" style="top:639px;font-size:9.3px;right:372.70px;transform:scaleX(0.9350);transform-origin:right center;">-</span>
<span class="t" style="top:639px;font-size:9.3px;right:310.50px;transform:scaleX(0.9350);transform-origin:right center;">-</span>
<span class="t" style="top:639px;font-size:9.3px;right:260.30px;transform:scaleX(0.9350);transform-origin:right center;">-</span>
<span class="t" style="top:639px;font-size:9.3px;right:195.90px;transform:scaleX(0.9350);transform-origin:right center;">190</span>
<span class="t" style="top:639px;font-size:9.3px;right:134.40px;transform:scaleX(0.9350);transform-origin:right center;">151</span>
<span class="t" style="top:639px;font-size:9.3px;right:71.90px;transform:scaleX(0.9350);transform-origin:right center;">264</span>
<span class="t" style="top:639px;font-size:9.3px;right:17.80px;transform:scaleX(0.9350);transform-origin:right center;">145</span>
<span class="t" style="top:649px;font-size:9.3px;left:2.00px;transform:scaleX(0.9350);transform-origin:left center;">Nev.</span>
<span class="t" style="top:649px;font-size:9.3px;right:543.50px;transform:scaleX(0.9350);transform-origin:right center;">10</span>
<span class="t" style="top:649px;font-size:9.3px;right:490.80px;transform:scaleX(0.9350);transform-origin:right center;">15</span>
<span class="t" style="top:649px;font-size:9.3px;right:425.70px;transform:scaleX(0.9350);transform-origin:right center;">-</span>
<span class="t" style="top:649px;font-size:9.3px;right:372.70px;transform:scaleX(0.9350);transform-origin:right center;">-</span>
<span class="t" style="top:649px;font-size:9.3px;right:310.50px;transform:scaleX(0.9350);transform-origin:right center;">-</span>
<span class="t" style="top:649px;font-size:9.3px;right:260.30px;transform:scaleX(0.9350);transform-origin:right center;">-</span>
<span class="t" style="top:649px;font-size:9.3px;right:195.90px;transform:scaleX(0.9350);transform-origin:right center;">74</span>
<span class="t" style="top:649px;font-size:9.3px;right:134.40px;transform:scaleX(0.9350);transform-origin:right center;">77</span>
<span class="t" style="top:649px;font-size:9.3px;right:71.90px;transform:scaleX(0.9350);transform-origin:right center;">1,098</span>
<span class="t" style="top:649px;font-size:9.3px;right:17.80px;transform:scaleX(0.9350);transform-origin:right center;">1,170</span>
<span class="t" style="top:664px;font-size:9.3px;left:2.00px;transform:scaleX(0.9350);transform-origin:left center;">PACIFIC</span>
<span class="t" style="top:664px;font-size:9.3px;right:543.50px;transform:scaleX(0.9350);transform-origin:right center;">133</span>
<span class="t" style="top:664px;font-size:9.3px;right:490.80px;transform:scaleX(0.9350);transform-origin:right center;">262</span>
<span class="t" style="top:664px;font-size:9.3px;right:425.70px;transform:scaleX(0.9350);transform-origin:right center;">3</span>
<span class="t" style="top:664px;font-size:9.3px;right:372.70px;transform:scaleX(0.9350);transform-origin:right center;">5</span>
<span class="t" style="top:664px;font-size:9.3px;right:310.50px;transform:scaleX(0.9350);transform-origin:right center;">-</span>
<span class="t" style="top:664px;font-size:9.3px;right:260.30px;transform:scaleX(0.9350);transform-origin:right center;">-</span>
<span class="t" style="top:664px;font-size:9.3px;right:195.90px;transform:scaleX(0.9350);transform-origin:right center;">1,585</span>
<span class="t" style="top:664px;font-size:9.3px;right:134.40px;transform:scaleX(0.9350);transform-origin:right center;">1,992</span>
<span class="t" style="top:664px;font-size:9.3px;right:71.90px;transform:scaleX(0.9350);transform-origin:right center;">17,179</span>
<span class="t" style="top:664px;font-size:9.3px;right:17.80px;transform:scaleX(0.9350);transform-origin:right center;">17,657</span>
<span class="t" style="top:673px;font-size:9.3px;left:2.00px;transform:scaleX(0.9350);transform-origin:left center;">Wash.</span>
<span class="t" style="top:673px;font-size:9.3px;right:543.50px;transform:scaleX(0.9350);transform-origin:right center;">37</span>
<span class="t" style="top:673px;font-size:9.3px;right:490.80px;transform:scaleX(0.9350);transform-origin:right center;">63</span>
<span class="t" style="top:673px;font-size:9.3px;right:425.70px;transform:scaleX(0.9350);transform-origin:right center;">1</span>
<span class="t" style="top:673px;font-size:9.3px;right:372.70px;transform:scaleX(0.9350);transform-origin:right center;">-</span>
<span class="t" style="top:673px;font-size:9.3px;right:310.50px;transform:scaleX(0.9350);transform-origin:right center;">-</span>
<span class="t" style="top:673px;font-size:9.3px;right:260.30px;transform:scaleX(0.9350);transform-origin:right center;">-</span>
<span class="t" style="top:673px;font-size:9.3px;right:195.90px;transform:scaleX(0.9350);transform-origin:right center;">146</span>
<span class="t" style="top:673px;font-size:9.3px;right:134.40px;transform:scaleX(0.9350);transform-origin:right center;">216</span>
<span class="t" style="top:673px;font-size:9.3px;right:71.90px;transform:scaleX(0.9350);transform-origin:right center;">1,692</span>
<span class="t" style="top:673px;font-size:9.3px;right:17.80px;transform:scaleX(0.9350);transform-origin:right center;">1,746</span>
<span class="t" style="top:682px;font-size:9.3px;left:2.00px;transform:scaleX(0.9350);transform-origin:left center;">Oreg.</span>
<span class="t" style="top:682px;font-size:9.3px;right:543.50px;transform:scaleX(0.9350);transform-origin:right center;">24</span>
<span class="t" style="top:682px;font-size:9.3px;right:490.80px;transform:scaleX(0.9350);transform-origin:right center;">53</span>
<span class="t" style="top:682px;font-size:9.3px;right:425.70px;transform:scaleX(0.9350);transform-origin:right center;">1</span>
<span class="t" style="top:682px;font-size:9.3px;right:372.70px;transform:scaleX(0.9350);transform-origin:right center;">5</span>
<span class="t" style="top:682px;font-size:9.3px;right:310.50px;transform:scaleX(0.9350);transform-origin:right center;">-</span>
<span class="t" style="top:682px;font-size:9.3px;right:260.30px;transform:scaleX(0.9350);transform-origin:right center;">-</span>
<span class="t" style="top:682px;font-size:9.3px;right:195.90px;transform:scaleX(0.9350);transform-origin:right center;">205</span>
<span class="t" style="top:682px;font-size:9.3px;right:134.40px;transform:scaleX(0.9350);transform-origin:right center;">242</span>
<span class="t" style="top:682px;font-size:9.3px;right:71.90px;transform:scaleX(0.9350);transform-origin:right center;">581</span>
<span class="t" style="top:682px;font-size:9.3px;right:17.80px;transform:scaleX(0.9350);transform-origin:right center;">512</span>
<span class="t" style="top:692px;font-size:9.3px;left:2.00px;transform:scaleX(0.9350);transform-origin:left center;">Calif.</span>
<span class="t" style="top:692px;font-size:9.3px;right:543.50px;transform:scaleX(0.9350);transform-origin:right center;">68</span>
<span class="t" style="top:692px;font-size:9.3px;right:490.80px;transform:scaleX(0.9350);transform-origin:right center;">114</span>
<span class="t" style="top:692px;font-size:9.3px;right:425.70px;transform:scaleX(0.9350);transform-origin:right center;">-</span>
<span class="t" style="top:692px;font-size:9.3px;right:372.70px;transform:scaleX(0.9350);transform-origin:right center;">-</span>
<span class="t" style="top:692px;font-size:9.3px;right:310.50px;transform:scaleX(0.9350);transform-origin:right center;">-</span>
<span class="t" style="top:692px;font-size:9.3px;right:260.30px;transform:scaleX(0.9350);transform-origin:right center;">-</span>
<span class="t" style="top:692px;font-size:9.3px;right:195.90px;transform:scaleX(0.9350);transform-origin:right center;">1,150</span>
<span class="t" style="top:692px;font-size:9.3px;right:134.40px;transform:scaleX(0.9350);transform-origin:right center;">1,414</span>
<span class="t" style="top:692px;font-size:9.3px;right:71.90px;transform:scaleX(0.9350);transform-origin:right center;">14,251</span>
<span class="t" style="top:692px;font-size:9.3px;right:17.80px;transform:scaleX(0.9350);transform-origin:right center;">14,621</span>
<span class="t" style="top:701px;font-size:9.3px;left:2.00px;transform:scaleX(0.9350);transform-origin:left center;">Alaska</span>
<span class="t" style="top:701px;font-size:9.3px;right:543.50px;transform:scaleX(0.9350);transform-origin:right center;">1</span>
<span class="t" style="top:701px;font-size:9.3px;right:490.80px;transform:scaleX(0.9350);transform-origin:right center;">5</span>
<span class="t" style="top:701px;font-size:9.3px;right:425.70px;transform:scaleX(0.9350);transform-origin:right center;">-</span>
<span class="t" style="top:701px;font-size:9.3px;right:372.70px;transform:scaleX(0.9350);transform-origin:right center;">-</span>
<span class="t" style="top:701px;font-size:9.3px;right:310.50px;transform:scaleX(0.9350);transform-origin:right center;">-</span>
<span class="t" style="top:701px;font-size:9.3px;right:260.30px;transform:scaleX(0.9350);transform-origin:right center;">-</span>
<span class="t" style="top:701px;font-size:9.3px;right:195.90px;transform:scaleX(0.9350);transform-origin:right center;">47</span>
<span class="t" style="top:701px;font-size:9.3px;right:134.40px;transform:scaleX(0.9350);transform-origin:right center;">55</span>
<span class="t" style="top:701px;font-size:9.3px;right:71.90px;transform:scaleX(0.9350);transform-origin:right center;">321</span>
<span class="t" style="top:701px;font-size:9.3px;right:17.80px;transform:scaleX(0.9350);transform-origin:right center;">379</span>
<span class="t" style="top:710px;font-size:9.3px;left:2.00px;transform:scaleX(0.9350);transform-origin:left center;">Hawaii</span>
<span class="t" style="top:710px;font-size:9.3px;right:543.50px;transform:scaleX(0.9350);transform-origin:right center;">3</span>
<span class="t" style="top:710px;font-size:9.3px;right:490.80px;transform:scaleX(0.9350);transform-origin:right center;">27</span>
<span class="t" style="top:710px;font-size:9.3px;right:425.70px;transform:scaleX(0.9350);transform-origin:right center;">1</span>
<span class="t" style="top:710px;font-size:9.3px;right:372.70px;transform:scaleX(0.9350);transform-origin:right center;">-</span>
<span class="t" style="top:710px;font-size:9.3px;right:310.50px;transform:scaleX(0.9350);transform-origin:right center;">-</span>
<span class="t" style="top:710px;font-size:9.3px;right:260.30px;transform:scaleX(0.9350);transform-origin:right center;">-</span>
<span class="t" style="top:710px;font-size:9.3px;right:195.90px;transform:scaleX(0.9350);transform-origin:right center;">37</span>
<span class="t" style="top:710px;font-size:9.3px;right:134.40px;transform:scaleX(0.9350);transform-origin:right center;">65</span>
<span class="t" style="top:710px;font-size:9.3px;right:71.90px;transform:scaleX(0.9350);transform-origin:right center;">334</span>
<span class="t" style="top:710px;font-size:9.3px;right:17.80px;transform:scaleX(0.9350);transform-origin:right center;">399</span>
<span class="t" style="top:725px;font-size:9.3px;left:2.00px;transform:scaleX(0.9350);transform-origin:left center;">Guam</span>
<span class="t" style="top:725px;font-size:9.3px;right:543.50px;transform:scaleX(0.9350);transform-origin:right center;">N</span>
<span class="t" style="top:725px;font-size:9.3px;right:490.80px;transform:scaleX(0.9350);transform-origin:right center;">N</span>
<span class="t" style="top:725px;font-size:9.3px;right:425.70px;transform:scaleX(0.9350);transform-origin:right center;">-</span>
<span class="t" style="top:725px;font-size:9.3px;right:372.70px;transform:scaleX(0.9350);transform-origin:right center;">-</span>
<span class="t" style="top:725px;font-size:9.3px;right:310.50px;transform:scaleX(0.9350);transform-origin:right center;">-</span>
<span class="t" style="top:725px;font-size:9.3px;right:260.30px;transform:scaleX(0.9350);transform-origin:right center;">-</span>
<span class="t" style="top:725px;font-size:9.3px;right:195.90px;transform:scaleX(0.9350);transform-origin:right center;">-</span>
<span class="t" style="top:725px;font-size:9.3px;right:134.40px;transform:scaleX(0.9350);transform-origin:right center;">6</span>
<span class="t" style="top:725px;font-size:9.3px;right:71.90px;transform:scaleX(0.9350);transform-origin:right center;">-</span>
<span class="t" style="top:725px;font-size:9.3px;right:17.80px;transform:scaleX(0.9350);transform-origin:right center;">32</span>
<span class="t" style="top:734px;font-size:9.3px;left:2.00px;transform:scaleX(0.9350);transform-origin:left center;">P.R.</span>
<span class="t" style="top:734px;font-size:9.3px;right:543.50px;transform:scaleX(0.9350);transform-origin:right center;">-</span>
<span class="t" style="top:734px;font-size:9.3px;right:490.80px;transform:scaleX(0.9350);transform-origin:right center;">1</span>
<span class="t" style="top:734px;font-size:9.3px;right:425.70px;transform:scaleX(0.9350);transform-origin:right center;">-</span>
<span class="t" style="top:734px;font-size:9.3px;right:372.70px;transform:scaleX(0.9350);transform-origin:right center;">-</span>
<span class="t" style="top:734px;font-size:9.3px;right:310.50px;transform:scaleX(0.9350);transform-origin:right center;">-</span>
<span class="t" style="top:734px;font-size:9.3px;right:260.30px;transform:scaleX(0.9350);transform-origin:right center;">-</span>
<span class="t" style="top:734px;font-size:9.3px;right:195.90px;transform:scaleX(0.9350);transform-origin:right center;">30</span>
<span class="t" style="top:734px;font-size:9.3px;right:134.40px;transform:scaleX(0.9350);transform-origin:right center;">38</span>
<span class="t" style="top:734px;font-size:9.3px;right:71.90px;transform:scaleX(0.9350);transform-origin:right center;">123</span>
<span class="t" style="top:734px;font-size:9.3px;right:17.80px;transform:scaleX(0.9350);transform-origin:right center;">232</span>
<span class="t" style="top:744px;font-size:9.3px;left:2.00px;transform:scaleX(0.9350);transform-origin:left center;">V.I.</span>
<span class="t" style="top:744px;font-size:9.3px;right:543.50px;transform:scaleX(0.9350);transform-origin:right center;">-</span>
<span class="t" style="top:744px;font-size:9.3px;right:490.80px;transform:scaleX(0.9350);transform-origin:right center;">-</span>
<span class="t" style="top:744px;font-size:9.3px;right:425.70px;transform:scaleX(0.9350);transform-origin:right center;">-</span>
<span class="t" style="top:744px;font-size:9.3px;right:372.70px;transform:scaleX(0.9350);transform-origin:right center;">-</span>
<span class="t" style="top:744px;font-size:9.3px;right:310.50px;transform:scaleX(0.9350);transform-origin:right center;">-</span>
<span class="t" style="top:744px;font-size:9.3px;right:260.30px;transform:scaleX(0.9350);transform-origin:right center;">-</span>
<span class="t" style="top:744px;font-size:9.3px;right:195.90px;transform:scaleX(0.9350);transform-origin:right center;">-</span>
<span class="t" style="top:744px;font-size:9.3px;right:134.40px;transform:scaleX(0.9350);transform-origin:right center;">-</span>
<span class="t" style="top:744px;font-size:9.3px;right:71.90px;transform:scaleX(0.9350);transform-origin:right center;">36</span>
<span class="t" style="top:744px;font-size:9.3px;right:17.80px;transform:scaleX(0.9350);transform-origin:right center;">31</span>
<span class="t" style="top:753px;font-size:9.3px;left:2.00px;transform:scaleX(0.9350);transform-origin:left center;">Amer. Samoa</span>
<span class="t" style="top:753px;font-size:9.3px;right:543.50px;transform:scaleX(0.9350);transform-origin:right center;">U</span>
<span class="t" style="top:753px;font-size:9.3px;right:490.80px;transform:scaleX(0.9350);transform-origin:right center;">U</span>
<span class="t" style="top:753px;font-size:9.3px;right:425.70px;transform:scaleX(0.9350);transform-origin:right center;">U</span>
<span class="t" style="top:753px;font-size:9.3px;right:372.70px;transform:scaleX(0.9350);transform-origin:right center;">U</span>
<span class="t" style="top:753px;font-size:9.3px;right:310.50px;transform:scaleX(0.9350);transform-origin:right center;">U</span>
<span class="t" style="top:753px;font-size:9.3px;right:260.30px;transform:scaleX(0.9350);transform-origin:right center;">U</span>
<span class="t" style="top:753px;font-size:9.3px;right:195.90px;transform:scaleX(0.9350);transform-origin:right center;">U</span>
<span class="t" style="top:753px;font-size:9.3px;right:134.40px;transform:scaleX(0.9350);transform-origin:right center;">U</span>
<span class="t" style="top:753px;font-size:9.3px;right:71.90px;transform:scaleX(0.9350);transform-origin:right center;">U</span>
<span class="t" style="top:753px;font-size:9.3px;right:17.80px;transform:scaleX(0.9350);transform-origin:right center;">U</span>
<span class="t" style="top:762px;font-size:9.3px;left:2.00px;transform:scaleX(0.9350);transform-origin:left center;">C.N.M.I.</span>
<span class="t" style="top:762px;font-size:9.3px;right:543.50px;transform:scaleX(0.9350);transform-origin:right center;">-</span>
<span class="t" style="top:762px;font-size:9.3px;right:490.80px;transform:scaleX(0.9350);transform-origin:right center;">U</span>
<span class="t" style="top:762px;font-size:9.3px;right:425.70px;transform:scaleX(0.9350);transform-origin:right center;">-</span>
<span class="t" style="top:762px;font-size:9.3px;right:372.70px;transform:scaleX(0.9350);transform-origin:right center;">U</span>
<span class="t" style="top:762px;font-size:9.3px;right:310.50px;transform:scaleX(0.9350);transform-origin:right center;">-</span>
<span class="t" style="top:762px;font-size:9.3px;right:260.30px;transform:scaleX(0.9350);transform-origin:right center;">U</span>
<span class="t" style="top:762px;font-size:9.3px;right:195.90px;transform:scaleX(0.9350);transform-origin:right center;">-</span>
<span class="t" style="top:762px;font-size:9.3px;right:134.40px;transform:scaleX(0.9350);transform-origin:right center;">U</span>
<span class="t" style="top:762px;font-size:9.3px;right:71.90px;transform:scaleX(0.9350);transform-origin:right center;">-</span>
<span class="t" style="top:762px;font-size:9.3px;right:17.80px;transform:scaleX(0.9350);transform-origin:right center;">U</span>
<span class="t" style="top:778px;left:2.37px;font-size:9.2px;transform:scaleX(0.9305);transform-origin:left center;">N: Not notifiable.</span>
<span class="t" style="top:778px;left:95.96px;font-size:9.2px;transform:scaleX(0.9211);transform-origin:left center;">U: Unavailable.</span>
<span class="t" style="top:778px;left:181.95px;font-size:9.2px;transform:scaleX(0.9507);transform-origin:left center;">- : No reported cases.</span>
<span class="t" style="top:786px;left:3.48px;font-size:9.2px;transform:scaleX(0.9058);transform-origin:left center;">*</span>
<span class="t" style="top:786px;left:9.92px;font-size:9.2px;transform:scaleX(0.9425);transform-origin:left center;">Incidence data for reporting years 2002 and 2003 are provisional and cumulative (year-to-date).</span>
</body></html>
